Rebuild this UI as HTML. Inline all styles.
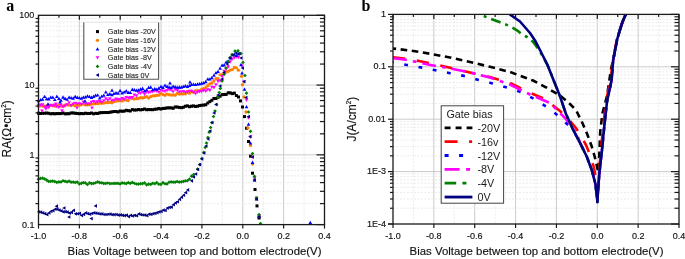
<!DOCTYPE html>
<html><head><meta charset="utf-8"><style>
html,body{margin:0;padding:0;background:#fff;width:685px;height:259px;overflow:hidden;}
svg{will-change:transform;}
svg text{font-family:"Liberation Sans",sans-serif;stroke:#111;stroke-width:0.15px;}
svg text.ser{font-family:"Liberation Serif",serif;font-weight:bold;font-size:16px;stroke:none;}
svg text.lg{stroke:none;}
svg text.lg2{stroke:#1e1e1e;stroke-width:0.12px;}
</style></head><body>
<svg width="685" height="259" viewBox="0 0 685 259" style="position:absolute;left:0;top:0">
<rect width="685" height="259" fill="#fff"/>
<line x1="58.93" y1="15.3" x2="58.93" y2="224.6" stroke="#e6e6e6" stroke-width="0.8" stroke-dasharray="2 1.5"/>
<line x1="79.36" y1="15.3" x2="79.36" y2="224.6" stroke="#cbcbcb" stroke-width="1"/>
<line x1="99.79" y1="15.3" x2="99.79" y2="224.6" stroke="#e6e6e6" stroke-width="0.8" stroke-dasharray="2 1.5"/>
<line x1="120.21" y1="15.3" x2="120.21" y2="224.6" stroke="#cbcbcb" stroke-width="1"/>
<line x1="140.64" y1="15.3" x2="140.64" y2="224.6" stroke="#e6e6e6" stroke-width="0.8" stroke-dasharray="2 1.5"/>
<line x1="161.07" y1="15.3" x2="161.07" y2="224.6" stroke="#cbcbcb" stroke-width="1"/>
<line x1="181.50" y1="15.3" x2="181.50" y2="224.6" stroke="#e6e6e6" stroke-width="0.8" stroke-dasharray="2 1.5"/>
<line x1="201.93" y1="15.3" x2="201.93" y2="224.6" stroke="#cbcbcb" stroke-width="1"/>
<line x1="222.36" y1="15.3" x2="222.36" y2="224.6" stroke="#e6e6e6" stroke-width="0.8" stroke-dasharray="2 1.5"/>
<line x1="242.79" y1="15.3" x2="242.79" y2="224.6" stroke="#cbcbcb" stroke-width="1"/>
<line x1="263.21" y1="15.3" x2="263.21" y2="224.6" stroke="#e6e6e6" stroke-width="0.8" stroke-dasharray="2 1.5"/>
<line x1="283.64" y1="15.3" x2="283.64" y2="224.6" stroke="#cbcbcb" stroke-width="1"/>
<line x1="304.07" y1="15.3" x2="304.07" y2="224.6" stroke="#e6e6e6" stroke-width="0.8" stroke-dasharray="2 1.5"/>
<line x1="38.5" y1="85.07" x2="324.5" y2="85.07" stroke="#cbcbcb" stroke-width="1"/>
<line x1="38.5" y1="64.06" x2="324.5" y2="64.06" stroke="#e6e6e6" stroke-width="0.8" stroke-dasharray="2 1.5"/>
<line x1="38.5" y1="51.78" x2="324.5" y2="51.78" stroke="#e6e6e6" stroke-width="0.8" stroke-dasharray="2 1.5"/>
<line x1="38.5" y1="43.06" x2="324.5" y2="43.06" stroke="#e6e6e6" stroke-width="0.8" stroke-dasharray="2 1.5"/>
<line x1="38.5" y1="36.30" x2="324.5" y2="36.30" stroke="#e6e6e6" stroke-width="0.8" stroke-dasharray="2 1.5"/>
<line x1="38.5" y1="30.78" x2="324.5" y2="30.78" stroke="#e6e6e6" stroke-width="0.8" stroke-dasharray="2 1.5"/>
<line x1="38.5" y1="26.11" x2="324.5" y2="26.11" stroke="#e6e6e6" stroke-width="0.8" stroke-dasharray="2 1.5"/>
<line x1="38.5" y1="22.06" x2="324.5" y2="22.06" stroke="#e6e6e6" stroke-width="0.8" stroke-dasharray="2 1.5"/>
<line x1="38.5" y1="18.49" x2="324.5" y2="18.49" stroke="#e6e6e6" stroke-width="0.8" stroke-dasharray="2 1.5"/>
<line x1="38.5" y1="154.83" x2="324.5" y2="154.83" stroke="#cbcbcb" stroke-width="1"/>
<line x1="38.5" y1="133.83" x2="324.5" y2="133.83" stroke="#e6e6e6" stroke-width="0.8" stroke-dasharray="2 1.5"/>
<line x1="38.5" y1="121.55" x2="324.5" y2="121.55" stroke="#e6e6e6" stroke-width="0.8" stroke-dasharray="2 1.5"/>
<line x1="38.5" y1="112.83" x2="324.5" y2="112.83" stroke="#e6e6e6" stroke-width="0.8" stroke-dasharray="2 1.5"/>
<line x1="38.5" y1="106.07" x2="324.5" y2="106.07" stroke="#e6e6e6" stroke-width="0.8" stroke-dasharray="2 1.5"/>
<line x1="38.5" y1="100.54" x2="324.5" y2="100.54" stroke="#e6e6e6" stroke-width="0.8" stroke-dasharray="2 1.5"/>
<line x1="38.5" y1="95.87" x2="324.5" y2="95.87" stroke="#e6e6e6" stroke-width="0.8" stroke-dasharray="2 1.5"/>
<line x1="38.5" y1="91.83" x2="324.5" y2="91.83" stroke="#e6e6e6" stroke-width="0.8" stroke-dasharray="2 1.5"/>
<line x1="38.5" y1="88.26" x2="324.5" y2="88.26" stroke="#e6e6e6" stroke-width="0.8" stroke-dasharray="2 1.5"/>
<line x1="38.5" y1="203.60" x2="324.5" y2="203.60" stroke="#e6e6e6" stroke-width="0.8" stroke-dasharray="2 1.5"/>
<line x1="38.5" y1="191.31" x2="324.5" y2="191.31" stroke="#e6e6e6" stroke-width="0.8" stroke-dasharray="2 1.5"/>
<line x1="38.5" y1="182.60" x2="324.5" y2="182.60" stroke="#e6e6e6" stroke-width="0.8" stroke-dasharray="2 1.5"/>
<line x1="38.5" y1="175.84" x2="324.5" y2="175.84" stroke="#e6e6e6" stroke-width="0.8" stroke-dasharray="2 1.5"/>
<line x1="38.5" y1="170.31" x2="324.5" y2="170.31" stroke="#e6e6e6" stroke-width="0.8" stroke-dasharray="2 1.5"/>
<line x1="38.5" y1="165.64" x2="324.5" y2="165.64" stroke="#e6e6e6" stroke-width="0.8" stroke-dasharray="2 1.5"/>
<line x1="38.5" y1="161.59" x2="324.5" y2="161.59" stroke="#e6e6e6" stroke-width="0.8" stroke-dasharray="2 1.5"/>
<line x1="38.5" y1="158.03" x2="324.5" y2="158.03" stroke="#e6e6e6" stroke-width="0.8" stroke-dasharray="2 1.5"/>
<g>
<rect x="37.00" y="111.71" width="3.00" height="3.00" fill="#000"/>
<rect x="39.04" y="112.00" width="3.00" height="3.00" fill="#000"/>
<rect x="41.08" y="111.76" width="3.00" height="3.00" fill="#000"/>
<rect x="43.12" y="111.75" width="3.00" height="3.00" fill="#000"/>
<rect x="45.16" y="111.55" width="3.00" height="3.00" fill="#000"/>
<rect x="47.20" y="111.82" width="3.00" height="3.00" fill="#000"/>
<rect x="49.24" y="112.30" width="3.00" height="3.00" fill="#000"/>
<rect x="51.28" y="112.08" width="3.00" height="3.00" fill="#000"/>
<rect x="53.32" y="112.31" width="3.00" height="3.00" fill="#000"/>
<rect x="55.36" y="112.06" width="3.00" height="3.00" fill="#000"/>
<rect x="57.40" y="112.13" width="3.00" height="3.00" fill="#000"/>
<rect x="59.44" y="112.07" width="3.00" height="3.00" fill="#000"/>
<rect x="61.48" y="111.43" width="3.00" height="3.00" fill="#000"/>
<rect x="63.52" y="112.32" width="3.00" height="3.00" fill="#000"/>
<rect x="65.56" y="112.21" width="3.00" height="3.00" fill="#000"/>
<rect x="67.60" y="112.22" width="3.00" height="3.00" fill="#000"/>
<rect x="69.64" y="111.46" width="3.00" height="3.00" fill="#000"/>
<rect x="71.68" y="111.46" width="3.00" height="3.00" fill="#000"/>
<rect x="73.72" y="111.76" width="3.00" height="3.00" fill="#000"/>
<rect x="75.76" y="111.92" width="3.00" height="3.00" fill="#000"/>
<rect x="77.80" y="112.20" width="3.00" height="3.00" fill="#000"/>
<rect x="79.84" y="112.04" width="3.00" height="3.00" fill="#000"/>
<rect x="81.88" y="112.18" width="3.00" height="3.00" fill="#000"/>
<rect x="83.92" y="111.71" width="3.00" height="3.00" fill="#000"/>
<rect x="85.96" y="111.98" width="3.00" height="3.00" fill="#000"/>
<rect x="88.00" y="111.95" width="3.00" height="3.00" fill="#000"/>
<rect x="90.04" y="111.52" width="3.00" height="3.00" fill="#000"/>
<rect x="92.08" y="112.29" width="3.00" height="3.00" fill="#000"/>
<rect x="94.12" y="111.83" width="3.00" height="3.00" fill="#000"/>
<rect x="96.16" y="111.99" width="3.00" height="3.00" fill="#000"/>
<rect x="98.20" y="111.29" width="3.00" height="3.00" fill="#000"/>
<rect x="100.24" y="111.10" width="3.00" height="3.00" fill="#000"/>
<rect x="102.28" y="111.06" width="3.00" height="3.00" fill="#000"/>
<rect x="104.32" y="110.98" width="3.00" height="3.00" fill="#000"/>
<rect x="106.36" y="111.07" width="3.00" height="3.00" fill="#000"/>
<rect x="108.40" y="110.76" width="3.00" height="3.00" fill="#000"/>
<rect x="110.44" y="110.35" width="3.00" height="3.00" fill="#000"/>
<rect x="112.48" y="110.00" width="3.00" height="3.00" fill="#000"/>
<rect x="114.52" y="109.98" width="3.00" height="3.00" fill="#000"/>
<rect x="116.56" y="110.42" width="3.00" height="3.00" fill="#000"/>
<rect x="118.60" y="109.55" width="3.00" height="3.00" fill="#000"/>
<rect x="120.64" y="109.75" width="3.00" height="3.00" fill="#000"/>
<rect x="122.68" y="109.64" width="3.00" height="3.00" fill="#000"/>
<rect x="124.72" y="108.81" width="3.00" height="3.00" fill="#000"/>
<rect x="126.76" y="109.18" width="3.00" height="3.00" fill="#000"/>
<rect x="128.80" y="109.45" width="3.00" height="3.00" fill="#000"/>
<rect x="130.84" y="108.12" width="3.00" height="3.00" fill="#000"/>
<rect x="132.88" y="108.55" width="3.00" height="3.00" fill="#000"/>
<rect x="134.92" y="108.46" width="3.00" height="3.00" fill="#000"/>
<rect x="136.96" y="108.04" width="3.00" height="3.00" fill="#000"/>
<rect x="139.00" y="108.35" width="3.00" height="3.00" fill="#000"/>
<rect x="141.04" y="108.08" width="3.00" height="3.00" fill="#000"/>
<rect x="143.08" y="107.50" width="3.00" height="3.00" fill="#000"/>
<rect x="145.12" y="108.22" width="3.00" height="3.00" fill="#000"/>
<rect x="147.16" y="108.09" width="3.00" height="3.00" fill="#000"/>
<rect x="149.20" y="108.10" width="3.00" height="3.00" fill="#000"/>
<rect x="151.24" y="108.19" width="3.00" height="3.00" fill="#000"/>
<rect x="153.28" y="107.74" width="3.00" height="3.00" fill="#000"/>
<rect x="155.32" y="107.57" width="3.00" height="3.00" fill="#000"/>
<rect x="157.36" y="106.99" width="3.00" height="3.00" fill="#000"/>
<rect x="159.40" y="107.54" width="3.00" height="3.00" fill="#000"/>
<rect x="161.44" y="106.95" width="3.00" height="3.00" fill="#000"/>
<rect x="163.48" y="106.84" width="3.00" height="3.00" fill="#000"/>
<rect x="165.52" y="106.40" width="3.00" height="3.00" fill="#000"/>
<rect x="167.56" y="106.34" width="3.00" height="3.00" fill="#000"/>
<rect x="169.60" y="106.33" width="3.00" height="3.00" fill="#000"/>
<rect x="171.64" y="106.80" width="3.00" height="3.00" fill="#000"/>
<rect x="173.68" y="105.47" width="3.00" height="3.00" fill="#000"/>
<rect x="175.72" y="105.51" width="3.00" height="3.00" fill="#000"/>
<rect x="177.76" y="105.94" width="3.00" height="3.00" fill="#000"/>
<rect x="179.80" y="106.21" width="3.00" height="3.00" fill="#000"/>
<rect x="181.84" y="105.76" width="3.00" height="3.00" fill="#000"/>
<rect x="183.88" y="104.74" width="3.00" height="3.00" fill="#000"/>
<rect x="185.92" y="104.37" width="3.00" height="3.00" fill="#000"/>
<rect x="187.96" y="105.23" width="3.00" height="3.00" fill="#000"/>
<rect x="190.00" y="104.70" width="3.00" height="3.00" fill="#000"/>
<rect x="192.04" y="104.42" width="3.00" height="3.00" fill="#000"/>
<rect x="194.08" y="104.96" width="3.00" height="3.00" fill="#000"/>
<rect x="196.12" y="104.69" width="3.00" height="3.00" fill="#000"/>
<rect x="198.16" y="104.06" width="3.00" height="3.00" fill="#000"/>
<rect x="200.20" y="103.78" width="3.00" height="3.00" fill="#000"/>
<rect x="202.24" y="103.54" width="3.00" height="3.00" fill="#000"/>
<rect x="204.28" y="103.23" width="3.00" height="3.00" fill="#000"/>
<rect x="206.32" y="101.52" width="3.00" height="3.00" fill="#000"/>
<rect x="208.36" y="100.12" width="3.00" height="3.00" fill="#000"/>
<rect x="210.40" y="98.76" width="3.00" height="3.00" fill="#000"/>
<rect x="212.44" y="96.98" width="3.00" height="3.00" fill="#000"/>
<rect x="214.48" y="96.96" width="3.00" height="3.00" fill="#000"/>
<rect x="216.52" y="95.82" width="3.00" height="3.00" fill="#000"/>
<rect x="218.56" y="94.67" width="3.00" height="3.00" fill="#000"/>
<rect x="220.60" y="93.16" width="3.00" height="3.00" fill="#000"/>
<rect x="222.64" y="92.99" width="3.00" height="3.00" fill="#000"/>
<rect x="224.68" y="92.88" width="3.00" height="3.00" fill="#000"/>
<rect x="226.72" y="91.32" width="3.00" height="3.00" fill="#000"/>
<rect x="228.76" y="91.38" width="3.00" height="3.00" fill="#000"/>
<rect x="230.80" y="92.12" width="3.00" height="3.00" fill="#000"/>
<rect x="232.84" y="91.64" width="3.00" height="3.00" fill="#000"/>
<rect x="234.88" y="94.01" width="3.00" height="3.00" fill="#000"/>
<rect x="237.00" y="95.50" width="3.00" height="3.00" fill="#000"/>
<rect x="239.00" y="99.40" width="3.00" height="3.00" fill="#000"/>
<rect x="241.00" y="105.50" width="3.00" height="3.00" fill="#000"/>
<rect x="243.00" y="115.10" width="3.00" height="3.00" fill="#000"/>
<rect x="245.00" y="126.70" width="3.00" height="3.00" fill="#000"/>
<rect x="247.00" y="140.00" width="3.00" height="3.00" fill="#000"/>
<rect x="249.00" y="154.70" width="3.00" height="3.00" fill="#000"/>
<rect x="251.00" y="171.70" width="3.00" height="3.00" fill="#000"/>
<rect x="253.50" y="188.00" width="3.00" height="3.00" fill="#000"/>
<rect x="255.50" y="204.40" width="3.00" height="3.00" fill="#000"/>
<rect x="257.50" y="216.50" width="3.00" height="3.00" fill="#000"/>
<circle cx="38.50" cy="106.30" r="1.65" fill="#ff8000"/>
<circle cx="40.54" cy="105.87" r="1.65" fill="#ff8000"/>
<circle cx="42.58" cy="106.08" r="1.65" fill="#ff8000"/>
<circle cx="44.62" cy="106.22" r="1.65" fill="#ff8000"/>
<circle cx="46.66" cy="105.88" r="1.65" fill="#ff8000"/>
<circle cx="48.70" cy="106.39" r="1.65" fill="#ff8000"/>
<circle cx="50.74" cy="105.35" r="1.65" fill="#ff8000"/>
<circle cx="52.78" cy="105.44" r="1.65" fill="#ff8000"/>
<circle cx="54.82" cy="106.19" r="1.65" fill="#ff8000"/>
<circle cx="56.86" cy="105.59" r="1.65" fill="#ff8000"/>
<circle cx="58.90" cy="105.04" r="1.65" fill="#ff8000"/>
<circle cx="60.94" cy="105.99" r="1.65" fill="#ff8000"/>
<circle cx="62.98" cy="106.22" r="1.65" fill="#ff8000"/>
<circle cx="65.02" cy="105.10" r="1.65" fill="#ff8000"/>
<circle cx="67.06" cy="104.53" r="1.65" fill="#ff8000"/>
<circle cx="69.10" cy="105.15" r="1.65" fill="#ff8000"/>
<circle cx="71.14" cy="105.08" r="1.65" fill="#ff8000"/>
<circle cx="73.18" cy="104.94" r="1.65" fill="#ff8000"/>
<circle cx="75.22" cy="105.82" r="1.65" fill="#ff8000"/>
<circle cx="77.26" cy="104.42" r="1.65" fill="#ff8000"/>
<circle cx="79.30" cy="105.61" r="1.65" fill="#ff8000"/>
<circle cx="81.34" cy="104.09" r="1.65" fill="#ff8000"/>
<circle cx="83.38" cy="104.18" r="1.65" fill="#ff8000"/>
<circle cx="85.42" cy="104.79" r="1.65" fill="#ff8000"/>
<circle cx="87.46" cy="104.89" r="1.65" fill="#ff8000"/>
<circle cx="89.50" cy="104.56" r="1.65" fill="#ff8000"/>
<circle cx="91.54" cy="104.11" r="1.65" fill="#ff8000"/>
<circle cx="93.58" cy="103.82" r="1.65" fill="#ff8000"/>
<circle cx="95.62" cy="103.66" r="1.65" fill="#ff8000"/>
<circle cx="97.66" cy="103.72" r="1.65" fill="#ff8000"/>
<circle cx="99.70" cy="103.13" r="1.65" fill="#ff8000"/>
<circle cx="101.74" cy="103.14" r="1.65" fill="#ff8000"/>
<circle cx="103.78" cy="103.05" r="1.65" fill="#ff8000"/>
<circle cx="105.82" cy="102.49" r="1.65" fill="#ff8000"/>
<circle cx="107.86" cy="102.66" r="1.65" fill="#ff8000"/>
<circle cx="109.90" cy="102.30" r="1.65" fill="#ff8000"/>
<circle cx="111.94" cy="102.85" r="1.65" fill="#ff8000"/>
<circle cx="113.98" cy="101.67" r="1.65" fill="#ff8000"/>
<circle cx="116.02" cy="101.01" r="1.65" fill="#ff8000"/>
<circle cx="118.06" cy="100.79" r="1.65" fill="#ff8000"/>
<circle cx="120.10" cy="100.71" r="1.65" fill="#ff8000"/>
<circle cx="122.14" cy="100.94" r="1.65" fill="#ff8000"/>
<circle cx="124.18" cy="99.97" r="1.65" fill="#ff8000"/>
<circle cx="126.22" cy="100.09" r="1.65" fill="#ff8000"/>
<circle cx="128.26" cy="100.61" r="1.65" fill="#ff8000"/>
<circle cx="130.30" cy="97.91" r="1.65" fill="#ff8000"/>
<circle cx="132.34" cy="98.43" r="1.65" fill="#ff8000"/>
<circle cx="134.38" cy="98.90" r="1.65" fill="#ff8000"/>
<circle cx="136.42" cy="98.71" r="1.65" fill="#ff8000"/>
<circle cx="138.46" cy="98.34" r="1.65" fill="#ff8000"/>
<circle cx="140.50" cy="97.69" r="1.65" fill="#ff8000"/>
<circle cx="142.54" cy="97.98" r="1.65" fill="#ff8000"/>
<circle cx="144.58" cy="97.47" r="1.65" fill="#ff8000"/>
<circle cx="146.62" cy="96.72" r="1.65" fill="#ff8000"/>
<circle cx="148.66" cy="98.04" r="1.65" fill="#ff8000"/>
<circle cx="150.70" cy="96.59" r="1.65" fill="#ff8000"/>
<circle cx="152.74" cy="95.78" r="1.65" fill="#ff8000"/>
<circle cx="154.78" cy="95.73" r="1.65" fill="#ff8000"/>
<circle cx="156.82" cy="95.35" r="1.65" fill="#ff8000"/>
<circle cx="158.86" cy="95.14" r="1.65" fill="#ff8000"/>
<circle cx="160.90" cy="93.46" r="1.65" fill="#ff8000"/>
<circle cx="162.94" cy="94.61" r="1.65" fill="#ff8000"/>
<circle cx="164.98" cy="95.36" r="1.65" fill="#ff8000"/>
<circle cx="167.02" cy="94.08" r="1.65" fill="#ff8000"/>
<circle cx="169.06" cy="94.60" r="1.65" fill="#ff8000"/>
<circle cx="171.10" cy="95.08" r="1.65" fill="#ff8000"/>
<circle cx="173.14" cy="94.95" r="1.65" fill="#ff8000"/>
<circle cx="175.18" cy="95.21" r="1.65" fill="#ff8000"/>
<circle cx="177.22" cy="93.38" r="1.65" fill="#ff8000"/>
<circle cx="179.26" cy="94.04" r="1.65" fill="#ff8000"/>
<circle cx="181.30" cy="93.79" r="1.65" fill="#ff8000"/>
<circle cx="183.34" cy="93.96" r="1.65" fill="#ff8000"/>
<circle cx="185.38" cy="93.87" r="1.65" fill="#ff8000"/>
<circle cx="187.42" cy="91.44" r="1.65" fill="#ff8000"/>
<circle cx="189.46" cy="93.16" r="1.65" fill="#ff8000"/>
<circle cx="191.50" cy="91.41" r="1.65" fill="#ff8000"/>
<circle cx="193.54" cy="92.23" r="1.65" fill="#ff8000"/>
<circle cx="195.58" cy="90.57" r="1.65" fill="#ff8000"/>
<circle cx="197.62" cy="90.75" r="1.65" fill="#ff8000"/>
<circle cx="199.66" cy="90.58" r="1.65" fill="#ff8000"/>
<circle cx="201.70" cy="89.11" r="1.65" fill="#ff8000"/>
<circle cx="203.74" cy="88.56" r="1.65" fill="#ff8000"/>
<circle cx="205.78" cy="87.77" r="1.65" fill="#ff8000"/>
<circle cx="207.82" cy="85.66" r="1.65" fill="#ff8000"/>
<circle cx="209.86" cy="83.79" r="1.65" fill="#ff8000"/>
<circle cx="211.90" cy="82.93" r="1.65" fill="#ff8000"/>
<circle cx="213.94" cy="81.00" r="1.65" fill="#ff8000"/>
<circle cx="215.98" cy="78.60" r="1.65" fill="#ff8000"/>
<circle cx="218.02" cy="78.62" r="1.65" fill="#ff8000"/>
<circle cx="220.06" cy="74.83" r="1.65" fill="#ff8000"/>
<circle cx="222.10" cy="74.70" r="1.65" fill="#ff8000"/>
<circle cx="224.14" cy="72.79" r="1.65" fill="#ff8000"/>
<circle cx="226.18" cy="71.93" r="1.65" fill="#ff8000"/>
<circle cx="228.22" cy="71.31" r="1.65" fill="#ff8000"/>
<circle cx="230.26" cy="70.12" r="1.65" fill="#ff8000"/>
<circle cx="232.30" cy="69.53" r="1.65" fill="#ff8000"/>
<circle cx="234.34" cy="67.52" r="1.65" fill="#ff8000"/>
<circle cx="236.38" cy="67.82" r="1.65" fill="#ff8000"/>
<circle cx="238.42" cy="70.14" r="1.65" fill="#ff8000"/>
<circle cx="241.50" cy="76.30" r="1.65" fill="#ff8000"/>
<circle cx="242.50" cy="84.70" r="1.65" fill="#ff8000"/>
<circle cx="244.00" cy="97.00" r="1.65" fill="#ff8000"/>
<circle cx="246.00" cy="112.00" r="1.65" fill="#ff8000"/>
<circle cx="248.00" cy="127.90" r="1.65" fill="#ff8000"/>
<circle cx="250.50" cy="145.40" r="1.65" fill="#ff8000"/>
<circle cx="252.50" cy="164.00" r="1.65" fill="#ff8000"/>
<circle cx="254.50" cy="180.00" r="1.65" fill="#ff8000"/>
<circle cx="256.50" cy="199.00" r="1.65" fill="#ff8000"/>
<circle cx="259.00" cy="216.00" r="1.65" fill="#ff8000"/>
<path d="M38.50 106.98L40.35 103.65L36.65 103.65Z" fill="#ff00ff"/>
<path d="M40.54 106.93L42.39 103.60L38.69 103.60Z" fill="#ff00ff"/>
<path d="M42.58 106.53L44.43 103.20L40.73 103.20Z" fill="#ff00ff"/>
<path d="M44.62 108.99L46.47 105.66L42.77 105.66Z" fill="#ff00ff"/>
<path d="M46.66 108.52L48.51 105.19L44.81 105.19Z" fill="#ff00ff"/>
<path d="M48.70 109.18L50.55 105.85L46.85 105.85Z" fill="#ff00ff"/>
<path d="M50.74 107.01L52.59 103.68L48.89 103.68Z" fill="#ff00ff"/>
<path d="M52.78 107.85L54.63 104.52L50.93 104.52Z" fill="#ff00ff"/>
<path d="M54.82 106.82L56.67 103.49L52.97 103.49Z" fill="#ff00ff"/>
<path d="M56.86 108.54L58.71 105.21L55.01 105.21Z" fill="#ff00ff"/>
<path d="M58.90 109.28L60.75 105.95L57.05 105.95Z" fill="#ff00ff"/>
<path d="M60.94 106.90L62.79 103.57L59.09 103.57Z" fill="#ff00ff"/>
<path d="M62.98 108.78L64.83 105.45L61.13 105.45Z" fill="#ff00ff"/>
<path d="M65.02 107.94L66.87 104.61L63.17 104.61Z" fill="#ff00ff"/>
<path d="M67.06 106.56L68.91 103.23L65.21 103.23Z" fill="#ff00ff"/>
<path d="M69.10 104.62L70.95 101.29L67.25 101.29Z" fill="#ff00ff"/>
<path d="M71.14 107.38L72.99 104.05L69.29 104.05Z" fill="#ff00ff"/>
<path d="M73.18 105.78L75.03 102.45L71.33 102.45Z" fill="#ff00ff"/>
<path d="M75.22 105.08L77.07 101.75L73.37 101.75Z" fill="#ff00ff"/>
<path d="M77.26 105.74L79.11 102.41L75.41 102.41Z" fill="#ff00ff"/>
<path d="M79.30 105.50L81.15 102.17L77.45 102.17Z" fill="#ff00ff"/>
<path d="M81.34 106.32L83.19 102.99L79.49 102.99Z" fill="#ff00ff"/>
<path d="M83.38 103.93L85.23 100.60L81.53 100.60Z" fill="#ff00ff"/>
<path d="M85.42 105.75L87.27 102.42L83.57 102.42Z" fill="#ff00ff"/>
<path d="M87.46 105.94L89.31 102.61L85.61 102.61Z" fill="#ff00ff"/>
<path d="M89.50 105.79L91.35 102.46L87.65 102.46Z" fill="#ff00ff"/>
<path d="M91.54 104.10L93.39 100.77L89.69 100.77Z" fill="#ff00ff"/>
<path d="M93.58 103.35L95.43 100.02L91.73 100.02Z" fill="#ff00ff"/>
<path d="M95.62 104.69L97.47 101.36L93.77 101.36Z" fill="#ff00ff"/>
<path d="M97.66 103.63L99.51 100.30L95.81 100.30Z" fill="#ff00ff"/>
<path d="M99.70 103.40L101.55 100.07L97.85 100.07Z" fill="#ff00ff"/>
<path d="M101.74 104.34L103.59 101.01L99.89 101.01Z" fill="#ff00ff"/>
<path d="M103.78 102.59L105.63 99.26L101.93 99.26Z" fill="#ff00ff"/>
<path d="M105.82 100.54L107.67 97.21L103.97 97.21Z" fill="#ff00ff"/>
<path d="M107.86 102.03L109.71 98.70L106.01 98.70Z" fill="#ff00ff"/>
<path d="M109.90 100.48L111.75 97.15L108.05 97.15Z" fill="#ff00ff"/>
<path d="M111.94 102.66L113.79 99.33L110.09 99.33Z" fill="#ff00ff"/>
<path d="M113.98 101.98L115.83 98.65L112.13 98.65Z" fill="#ff00ff"/>
<path d="M116.02 100.92L117.87 97.59L114.17 97.59Z" fill="#ff00ff"/>
<path d="M118.06 101.23L119.91 97.90L116.21 97.90Z" fill="#ff00ff"/>
<path d="M120.10 101.50L121.95 98.17L118.25 98.17Z" fill="#ff00ff"/>
<path d="M122.14 100.34L123.99 97.01L120.29 97.01Z" fill="#ff00ff"/>
<path d="M124.18 100.98L126.03 97.65L122.33 97.65Z" fill="#ff00ff"/>
<path d="M126.22 99.25L128.07 95.92L124.37 95.92Z" fill="#ff00ff"/>
<path d="M128.26 99.76L130.11 96.43L126.41 96.43Z" fill="#ff00ff"/>
<path d="M130.30 99.69L132.15 96.36L128.45 96.36Z" fill="#ff00ff"/>
<path d="M132.34 99.31L134.19 95.98L130.49 95.98Z" fill="#ff00ff"/>
<path d="M134.38 96.77L136.23 93.44L132.53 93.44Z" fill="#ff00ff"/>
<path d="M136.42 97.69L138.27 94.36L134.57 94.36Z" fill="#ff00ff"/>
<path d="M138.46 94.73L140.31 91.40L136.61 91.40Z" fill="#ff00ff"/>
<path d="M140.50 94.98L142.35 91.65L138.65 91.65Z" fill="#ff00ff"/>
<path d="M142.54 93.80L144.39 90.47L140.69 90.47Z" fill="#ff00ff"/>
<path d="M144.58 96.14L146.43 92.81L142.73 92.81Z" fill="#ff00ff"/>
<path d="M146.62 93.68L148.47 90.35L144.77 90.35Z" fill="#ff00ff"/>
<path d="M148.66 94.39L150.51 91.06L146.81 91.06Z" fill="#ff00ff"/>
<path d="M150.70 93.84L152.55 90.51L148.85 90.51Z" fill="#ff00ff"/>
<path d="M152.74 93.60L154.59 90.27L150.89 90.27Z" fill="#ff00ff"/>
<path d="M154.78 92.71L156.63 89.38L152.93 89.38Z" fill="#ff00ff"/>
<path d="M156.82 93.06L158.67 89.73L154.97 89.73Z" fill="#ff00ff"/>
<path d="M158.86 94.08L160.71 90.75L157.01 90.75Z" fill="#ff00ff"/>
<path d="M160.90 92.32L162.75 88.99L159.05 88.99Z" fill="#ff00ff"/>
<path d="M162.94 92.82L164.79 89.49L161.09 89.49Z" fill="#ff00ff"/>
<path d="M164.98 93.30L166.83 89.97L163.13 89.97Z" fill="#ff00ff"/>
<path d="M167.02 92.28L168.87 88.95L165.17 88.95Z" fill="#ff00ff"/>
<path d="M169.06 91.39L170.91 88.06L167.21 88.06Z" fill="#ff00ff"/>
<path d="M171.10 92.08L172.95 88.75L169.25 88.75Z" fill="#ff00ff"/>
<path d="M173.14 93.61L174.99 90.28L171.29 90.28Z" fill="#ff00ff"/>
<path d="M175.18 91.22L177.03 87.89L173.33 87.89Z" fill="#ff00ff"/>
<path d="M177.22 92.23L179.07 88.90L175.37 88.90Z" fill="#ff00ff"/>
<path d="M179.26 93.73L181.11 90.40L177.41 90.40Z" fill="#ff00ff"/>
<path d="M181.30 93.74L183.15 90.41L179.45 90.41Z" fill="#ff00ff"/>
<path d="M183.34 93.30L185.19 89.97L181.49 89.97Z" fill="#ff00ff"/>
<path d="M185.38 94.29L187.23 90.96L183.53 90.96Z" fill="#ff00ff"/>
<path d="M187.42 93.99L189.27 90.66L185.57 90.66Z" fill="#ff00ff"/>
<path d="M189.46 93.05L191.31 89.72L187.61 89.72Z" fill="#ff00ff"/>
<path d="M191.50 92.98L193.35 89.65L189.65 89.65Z" fill="#ff00ff"/>
<path d="M193.54 94.08L195.39 90.75L191.69 90.75Z" fill="#ff00ff"/>
<path d="M195.58 95.60L197.43 92.27L193.73 92.27Z" fill="#ff00ff"/>
<path d="M197.62 93.97L199.47 90.64L195.77 90.64Z" fill="#ff00ff"/>
<path d="M199.66 93.39L201.51 90.06L197.81 90.06Z" fill="#ff00ff"/>
<path d="M201.70 93.22L203.55 89.89L199.85 89.89Z" fill="#ff00ff"/>
<path d="M203.74 92.25L205.59 88.92L201.89 88.92Z" fill="#ff00ff"/>
<path d="M205.78 93.09L207.63 89.76L203.93 89.76Z" fill="#ff00ff"/>
<path d="M207.82 91.46L209.67 88.13L205.97 88.13Z" fill="#ff00ff"/>
<path d="M209.86 92.18L211.71 88.85L208.01 88.85Z" fill="#ff00ff"/>
<path d="M211.90 89.06L213.75 85.73L210.05 85.73Z" fill="#ff00ff"/>
<path d="M213.94 89.44L215.79 86.11L212.09 86.11Z" fill="#ff00ff"/>
<path d="M215.98 86.46L217.83 83.13L214.13 83.13Z" fill="#ff00ff"/>
<path d="M218.02 83.17L219.87 79.84L216.17 79.84Z" fill="#ff00ff"/>
<path d="M220.06 82.46L221.91 79.13L218.21 79.13Z" fill="#ff00ff"/>
<path d="M222.10 78.42L223.95 75.09L220.25 75.09Z" fill="#ff00ff"/>
<path d="M224.14 72.99L225.99 69.66L222.29 69.66Z" fill="#ff00ff"/>
<path d="M226.18 70.85L228.03 67.52L224.33 67.52Z" fill="#ff00ff"/>
<path d="M228.22 68.64L230.07 65.31L226.37 65.31Z" fill="#ff00ff"/>
<path d="M230.26 63.63L232.11 60.30L228.41 60.30Z" fill="#ff00ff"/>
<path d="M232.30 60.86L234.15 57.53L230.45 57.53Z" fill="#ff00ff"/>
<path d="M234.34 59.56L236.19 56.23L232.49 56.23Z" fill="#ff00ff"/>
<path d="M236.38 58.64L238.23 55.31L234.53 55.31Z" fill="#ff00ff"/>
<path d="M238.42 59.35L240.27 56.02L236.57 56.02Z" fill="#ff00ff"/>
<path d="M242.00 67.85L243.85 64.52L240.15 64.52Z" fill="#ff00ff"/>
<path d="M244.00 83.85L245.85 80.52L242.15 80.52Z" fill="#ff00ff"/>
<path d="M246.50 101.95L248.35 98.62L244.65 98.62Z" fill="#ff00ff"/>
<path d="M248.50 119.85L250.35 116.52L246.65 116.52Z" fill="#ff00ff"/>
<path d="M250.50 138.85L252.35 135.52L248.65 135.52Z" fill="#ff00ff"/>
<path d="M252.50 158.85L254.35 155.52L250.65 155.52Z" fill="#ff00ff"/>
<path d="M254.50 180.15L256.35 176.82L252.65 176.82Z" fill="#ff00ff"/>
<path d="M256.50 199.85L258.35 196.52L254.65 196.52Z" fill="#ff00ff"/>
<path d="M259.00 217.85L260.85 214.52L257.15 214.52Z" fill="#ff00ff"/>
<path d="M42.00 112.85L43.85 109.52L40.15 109.52Z" fill="#ff00ff"/>
<path d="M46.00 110.85L47.85 107.52L44.15 107.52Z" fill="#ff00ff"/>
<path d="M62.00 112.65L63.85 109.32L60.15 109.32Z" fill="#ff00ff"/>
<path d="M77.00 109.85L78.85 106.52L75.15 106.52Z" fill="#ff00ff"/>
<path d="M92.00 109.85L93.85 106.52L90.15 106.52Z" fill="#ff00ff"/>
<path d="M56.00 105.85L57.85 102.52L54.15 102.52Z" fill="#ff00ff"/>
<path d="M38.50 98.85L40.35 102.18L36.65 102.18Z" fill="#0000ff"/>
<path d="M40.54 97.89L42.39 101.22L38.69 101.22Z" fill="#0000ff"/>
<path d="M42.58 97.35L44.43 100.68L40.73 100.68Z" fill="#0000ff"/>
<path d="M44.62 94.71L46.47 98.04L42.77 98.04Z" fill="#0000ff"/>
<path d="M46.66 97.04L48.51 100.37L44.81 100.37Z" fill="#0000ff"/>
<path d="M48.70 97.05L50.55 100.38L46.85 100.38Z" fill="#0000ff"/>
<path d="M50.74 95.44L52.59 98.77L48.89 98.77Z" fill="#0000ff"/>
<path d="M52.78 95.45L54.63 98.78L50.93 98.78Z" fill="#0000ff"/>
<path d="M54.82 97.78L56.67 101.11L52.97 101.11Z" fill="#0000ff"/>
<path d="M56.86 94.62L58.71 97.95L55.01 97.95Z" fill="#0000ff"/>
<path d="M58.90 96.78L60.75 100.11L57.05 100.11Z" fill="#0000ff"/>
<path d="M60.94 98.54L62.79 101.87L59.09 101.87Z" fill="#0000ff"/>
<path d="M62.98 95.32L64.83 98.65L61.13 98.65Z" fill="#0000ff"/>
<path d="M65.02 96.57L66.87 99.90L63.17 99.90Z" fill="#0000ff"/>
<path d="M67.06 97.44L68.91 100.77L65.21 100.77Z" fill="#0000ff"/>
<path d="M69.10 95.43L70.95 98.76L67.25 98.76Z" fill="#0000ff"/>
<path d="M71.14 95.99L72.99 99.32L69.29 99.32Z" fill="#0000ff"/>
<path d="M73.18 96.36L75.03 99.69L71.33 99.69Z" fill="#0000ff"/>
<path d="M75.22 94.79L77.07 98.12L73.37 98.12Z" fill="#0000ff"/>
<path d="M77.26 95.59L79.11 98.92L75.41 98.92Z" fill="#0000ff"/>
<path d="M79.30 95.99L81.15 99.32L77.45 99.32Z" fill="#0000ff"/>
<path d="M81.34 96.39L83.19 99.72L79.49 99.72Z" fill="#0000ff"/>
<path d="M83.38 95.45L85.23 98.78L81.53 98.78Z" fill="#0000ff"/>
<path d="M85.42 95.14L87.27 98.47L83.57 98.47Z" fill="#0000ff"/>
<path d="M87.46 94.24L89.31 97.57L85.61 97.57Z" fill="#0000ff"/>
<path d="M89.50 94.67L91.35 98.00L87.65 98.00Z" fill="#0000ff"/>
<path d="M91.54 95.57L93.39 98.90L89.69 98.90Z" fill="#0000ff"/>
<path d="M93.58 94.61L95.43 97.94L91.73 97.94Z" fill="#0000ff"/>
<path d="M95.62 93.51L97.47 96.84L93.77 96.84Z" fill="#0000ff"/>
<path d="M97.66 93.27L99.51 96.60L95.81 96.60Z" fill="#0000ff"/>
<path d="M99.70 96.19L101.55 99.52L97.85 99.52Z" fill="#0000ff"/>
<path d="M101.74 94.41L103.59 97.74L99.89 97.74Z" fill="#0000ff"/>
<path d="M103.78 93.53L105.63 96.86L101.93 96.86Z" fill="#0000ff"/>
<path d="M105.82 90.19L107.67 93.52L103.97 93.52Z" fill="#0000ff"/>
<path d="M107.86 92.66L109.71 95.99L106.01 95.99Z" fill="#0000ff"/>
<path d="M109.90 92.10L111.75 95.43L108.05 95.43Z" fill="#0000ff"/>
<path d="M111.94 92.97L113.79 96.30L110.09 96.30Z" fill="#0000ff"/>
<path d="M113.98 91.64L115.83 94.97L112.13 94.97Z" fill="#0000ff"/>
<path d="M116.02 90.99L117.87 94.32L114.17 94.32Z" fill="#0000ff"/>
<path d="M118.06 91.31L119.91 94.64L116.21 94.64Z" fill="#0000ff"/>
<path d="M120.10 88.80L121.95 92.13L118.25 92.13Z" fill="#0000ff"/>
<path d="M122.14 91.20L123.99 94.53L120.29 94.53Z" fill="#0000ff"/>
<path d="M124.18 90.27L126.03 93.60L122.33 93.60Z" fill="#0000ff"/>
<path d="M126.22 89.06L128.07 92.39L124.37 92.39Z" fill="#0000ff"/>
<path d="M128.26 90.60L130.11 93.93L126.41 93.93Z" fill="#0000ff"/>
<path d="M130.30 90.75L132.15 94.08L128.45 94.08Z" fill="#0000ff"/>
<path d="M132.34 87.57L134.19 90.90L130.49 90.90Z" fill="#0000ff"/>
<path d="M134.38 87.94L136.23 91.27L132.53 91.27Z" fill="#0000ff"/>
<path d="M136.42 88.52L138.27 91.85L134.57 91.85Z" fill="#0000ff"/>
<path d="M138.46 88.13L140.31 91.46L136.61 91.46Z" fill="#0000ff"/>
<path d="M140.50 87.33L142.35 90.66L138.65 90.66Z" fill="#0000ff"/>
<path d="M142.54 86.58L144.39 89.91L140.69 89.91Z" fill="#0000ff"/>
<path d="M144.58 89.13L146.43 92.46L142.73 92.46Z" fill="#0000ff"/>
<path d="M146.62 87.92L148.47 91.25L144.77 91.25Z" fill="#0000ff"/>
<path d="M148.66 85.68L150.51 89.01L146.81 89.01Z" fill="#0000ff"/>
<path d="M150.70 85.31L152.55 88.64L148.85 88.64Z" fill="#0000ff"/>
<path d="M152.74 87.82L154.59 91.15L150.89 91.15Z" fill="#0000ff"/>
<path d="M154.78 86.94L156.63 90.27L152.93 90.27Z" fill="#0000ff"/>
<path d="M156.82 87.45L158.67 90.78L154.97 90.78Z" fill="#0000ff"/>
<path d="M158.86 86.31L160.71 89.64L157.01 89.64Z" fill="#0000ff"/>
<path d="M160.90 84.64L162.75 87.97L159.05 87.97Z" fill="#0000ff"/>
<path d="M162.94 85.61L164.79 88.94L161.09 88.94Z" fill="#0000ff"/>
<path d="M164.98 83.38L166.83 86.71L163.13 86.71Z" fill="#0000ff"/>
<path d="M167.02 84.60L168.87 87.93L165.17 87.93Z" fill="#0000ff"/>
<path d="M169.06 85.17L170.91 88.50L167.21 88.50Z" fill="#0000ff"/>
<path d="M171.10 85.64L172.95 88.97L169.25 88.97Z" fill="#0000ff"/>
<path d="M173.14 84.47L174.99 87.80L171.29 87.80Z" fill="#0000ff"/>
<path d="M175.18 84.96L177.03 88.29L173.33 88.29Z" fill="#0000ff"/>
<path d="M177.22 85.43L179.07 88.76L175.37 88.76Z" fill="#0000ff"/>
<path d="M179.26 85.31L181.11 88.64L177.41 88.64Z" fill="#0000ff"/>
<path d="M181.30 85.34L183.15 88.67L179.45 88.67Z" fill="#0000ff"/>
<path d="M183.34 84.67L185.19 88.00L181.49 88.00Z" fill="#0000ff"/>
<path d="M185.38 83.91L187.23 87.24L183.53 87.24Z" fill="#0000ff"/>
<path d="M187.42 84.62L189.27 87.95L185.57 87.95Z" fill="#0000ff"/>
<path d="M189.46 83.67L191.31 87.00L187.61 87.00Z" fill="#0000ff"/>
<path d="M191.50 82.60L193.35 85.93L189.65 85.93Z" fill="#0000ff"/>
<path d="M193.54 82.49L195.39 85.82L191.69 85.82Z" fill="#0000ff"/>
<path d="M195.58 82.72L197.43 86.05L193.73 86.05Z" fill="#0000ff"/>
<path d="M197.62 82.15L199.47 85.48L195.77 85.48Z" fill="#0000ff"/>
<path d="M199.66 81.92L201.51 85.25L197.81 85.25Z" fill="#0000ff"/>
<path d="M201.70 81.31L203.55 84.64L199.85 84.64Z" fill="#0000ff"/>
<path d="M203.74 81.00L205.59 84.33L201.89 84.33Z" fill="#0000ff"/>
<path d="M205.78 79.82L207.63 83.15L203.93 83.15Z" fill="#0000ff"/>
<path d="M207.82 77.22L209.67 80.55L205.97 80.55Z" fill="#0000ff"/>
<path d="M209.86 77.14L211.71 80.47L208.01 80.47Z" fill="#0000ff"/>
<path d="M211.90 75.85L213.75 79.18L210.05 79.18Z" fill="#0000ff"/>
<path d="M213.94 73.42L215.79 76.75L212.09 76.75Z" fill="#0000ff"/>
<path d="M215.98 70.98L217.83 74.31L214.13 74.31Z" fill="#0000ff"/>
<path d="M218.02 69.67L219.87 73.00L216.17 73.00Z" fill="#0000ff"/>
<path d="M220.06 66.52L221.91 69.85L218.21 69.85Z" fill="#0000ff"/>
<path d="M222.10 63.52L223.95 66.85L220.25 66.85Z" fill="#0000ff"/>
<path d="M224.14 63.12L225.99 66.45L222.29 66.45Z" fill="#0000ff"/>
<path d="M226.18 60.20L228.03 63.53L224.33 63.53Z" fill="#0000ff"/>
<path d="M228.22 59.79L230.07 63.12L226.37 63.12Z" fill="#0000ff"/>
<path d="M230.26 56.24L232.11 59.57L228.41 59.57Z" fill="#0000ff"/>
<path d="M232.30 52.97L234.15 56.30L230.45 56.30Z" fill="#0000ff"/>
<path d="M234.34 52.52L236.19 55.85L232.49 55.85Z" fill="#0000ff"/>
<path d="M236.38 53.76L238.23 57.09L234.53 57.09Z" fill="#0000ff"/>
<path d="M238.42 52.12L240.27 55.45L236.57 55.45Z" fill="#0000ff"/>
<path d="M241.00 62.85L242.85 66.18L239.15 66.18Z" fill="#0000ff"/>
<path d="M242.00 71.15L243.85 74.48L240.15 74.48Z" fill="#0000ff"/>
<path d="M244.50 87.45L246.35 90.78L242.65 90.78Z" fill="#0000ff"/>
<path d="M246.50 104.95L248.35 108.28L244.65 108.28Z" fill="#0000ff"/>
<path d="M248.50 122.45L250.35 125.78L246.65 125.78Z" fill="#0000ff"/>
<path d="M250.50 141.15L252.35 144.48L248.65 144.48Z" fill="#0000ff"/>
<path d="M252.50 160.55L254.35 163.88L250.65 163.88Z" fill="#0000ff"/>
<path d="M254.50 178.15L256.35 181.48L252.65 181.48Z" fill="#0000ff"/>
<path d="M256.50 197.15L258.35 200.48L254.65 200.48Z" fill="#0000ff"/>
<path d="M259.00 214.15L260.85 217.48L257.15 217.48Z" fill="#0000ff"/>
<path d="M310.30 220.65L312.15 223.98L308.45 223.98Z" fill="#0000ff"/>
<path d="M112.00 88.45L113.85 91.78L110.15 91.78Z" fill="#0000ff"/>
<path d="M48.00 102.15L49.85 105.48L46.15 105.48Z" fill="#0000ff"/>
<path d="M60.00 100.15L61.85 103.48L58.15 103.48Z" fill="#0000ff"/>
<path d="M85.00 99.15L86.85 102.48L83.15 102.48Z" fill="#0000ff"/>
<path d="M170.00 81.15L171.85 84.48L168.15 84.48Z" fill="#0000ff"/>
<path d="M190.00 80.15L191.85 83.48L188.15 83.48Z" fill="#0000ff"/>
<path d="M38.50 177.33L40.35 179.18L38.50 181.03L36.65 179.18Z" fill="#008000"/>
<path d="M40.54 176.60L42.39 178.45L40.54 180.30L38.69 178.45Z" fill="#008000"/>
<path d="M42.58 176.29L44.43 178.14L42.58 179.99L40.73 178.14Z" fill="#008000"/>
<path d="M44.62 177.10L46.47 178.95L44.62 180.80L42.77 178.95Z" fill="#008000"/>
<path d="M46.66 178.24L48.51 180.09L46.66 181.94L44.81 180.09Z" fill="#008000"/>
<path d="M48.70 179.55L50.55 181.40L48.70 183.25L46.85 181.40Z" fill="#008000"/>
<path d="M50.74 179.45L52.59 181.30L50.74 183.15L48.89 181.30Z" fill="#008000"/>
<path d="M52.78 179.27L54.63 181.12L52.78 182.97L50.93 181.12Z" fill="#008000"/>
<path d="M54.82 179.71L56.67 181.56L54.82 183.41L52.97 181.56Z" fill="#008000"/>
<path d="M56.86 180.43L58.71 182.28L56.86 184.13L55.01 182.28Z" fill="#008000"/>
<path d="M58.90 180.09L60.75 181.94L58.90 183.79L57.05 181.94Z" fill="#008000"/>
<path d="M60.94 180.16L62.79 182.01L60.94 183.86L59.09 182.01Z" fill="#008000"/>
<path d="M62.98 178.90L64.83 180.75L62.98 182.60L61.13 180.75Z" fill="#008000"/>
<path d="M65.02 179.46L66.87 181.31L65.02 183.16L63.17 181.31Z" fill="#008000"/>
<path d="M67.06 179.99L68.91 181.84L67.06 183.69L65.21 181.84Z" fill="#008000"/>
<path d="M69.10 179.37L70.95 181.22L69.10 183.07L67.25 181.22Z" fill="#008000"/>
<path d="M71.14 180.32L72.99 182.17L71.14 184.02L69.29 182.17Z" fill="#008000"/>
<path d="M73.18 180.26L75.03 182.11L73.18 183.96L71.33 182.11Z" fill="#008000"/>
<path d="M75.22 180.67L77.07 182.52L75.22 184.37L73.37 182.52Z" fill="#008000"/>
<path d="M77.26 180.22L79.11 182.07L77.26 183.92L75.41 182.07Z" fill="#008000"/>
<path d="M79.30 182.10L81.15 183.95L79.30 185.80L77.45 183.95Z" fill="#008000"/>
<path d="M81.34 181.47L83.19 183.32L81.34 185.17L79.49 183.32Z" fill="#008000"/>
<path d="M83.38 180.72L85.23 182.57L83.38 184.42L81.53 182.57Z" fill="#008000"/>
<path d="M85.42 181.03L87.27 182.88L85.42 184.73L83.57 182.88Z" fill="#008000"/>
<path d="M87.46 182.65L89.31 184.50L87.46 186.35L85.61 184.50Z" fill="#008000"/>
<path d="M89.50 181.01L91.35 182.86L89.50 184.71L87.65 182.86Z" fill="#008000"/>
<path d="M91.54 181.68L93.39 183.53L91.54 185.38L89.69 183.53Z" fill="#008000"/>
<path d="M93.58 181.62L95.43 183.47L93.58 185.32L91.73 183.47Z" fill="#008000"/>
<path d="M95.62 180.92L97.47 182.77L95.62 184.62L93.77 182.77Z" fill="#008000"/>
<path d="M97.66 180.09L99.51 181.94L97.66 183.79L95.81 181.94Z" fill="#008000"/>
<path d="M99.70 180.78L101.55 182.63L99.70 184.48L97.85 182.63Z" fill="#008000"/>
<path d="M101.74 180.97L103.59 182.82L101.74 184.67L99.89 182.82Z" fill="#008000"/>
<path d="M103.78 181.55L105.63 183.40L103.78 185.25L101.93 183.40Z" fill="#008000"/>
<path d="M105.82 181.47L107.67 183.32L105.82 185.17L103.97 183.32Z" fill="#008000"/>
<path d="M107.86 181.14L109.71 182.99L107.86 184.84L106.01 182.99Z" fill="#008000"/>
<path d="M109.90 181.76L111.75 183.61L109.90 185.46L108.05 183.61Z" fill="#008000"/>
<path d="M111.94 181.67L113.79 183.52L111.94 185.37L110.09 183.52Z" fill="#008000"/>
<path d="M113.98 181.57L115.83 183.42L113.98 185.27L112.13 183.42Z" fill="#008000"/>
<path d="M116.02 181.58L117.87 183.43L116.02 185.28L114.17 183.43Z" fill="#008000"/>
<path d="M118.06 181.50L119.91 183.35L118.06 185.20L116.21 183.35Z" fill="#008000"/>
<path d="M120.10 182.08L121.95 183.93L120.10 185.78L118.25 183.93Z" fill="#008000"/>
<path d="M122.14 181.06L123.99 182.91L122.14 184.76L120.29 182.91Z" fill="#008000"/>
<path d="M124.18 181.33L126.03 183.18L124.18 185.03L122.33 183.18Z" fill="#008000"/>
<path d="M126.22 181.73L128.07 183.58L126.22 185.43L124.37 183.58Z" fill="#008000"/>
<path d="M128.26 180.87L130.11 182.72L128.26 184.57L126.41 182.72Z" fill="#008000"/>
<path d="M130.30 181.50L132.15 183.35L130.30 185.20L128.45 183.35Z" fill="#008000"/>
<path d="M132.34 180.58L134.19 182.43L132.34 184.28L130.49 182.43Z" fill="#008000"/>
<path d="M134.38 181.39L136.23 183.24L134.38 185.09L132.53 183.24Z" fill="#008000"/>
<path d="M136.42 182.16L138.27 184.01L136.42 185.86L134.57 184.01Z" fill="#008000"/>
<path d="M138.46 182.18L140.31 184.03L138.46 185.88L136.61 184.03Z" fill="#008000"/>
<path d="M140.50 181.83L142.35 183.68L140.50 185.53L138.65 183.68Z" fill="#008000"/>
<path d="M142.54 181.74L144.39 183.59L142.54 185.44L140.69 183.59Z" fill="#008000"/>
<path d="M144.58 181.05L146.43 182.90L144.58 184.75L142.73 182.90Z" fill="#008000"/>
<path d="M146.62 183.02L148.47 184.87L146.62 186.72L144.77 184.87Z" fill="#008000"/>
<path d="M148.66 182.25L150.51 184.10L148.66 185.95L146.81 184.10Z" fill="#008000"/>
<path d="M150.70 182.61L152.55 184.46L150.70 186.31L148.85 184.46Z" fill="#008000"/>
<path d="M152.74 181.42L154.59 183.27L152.74 185.12L150.89 183.27Z" fill="#008000"/>
<path d="M154.78 181.84L156.63 183.69L154.78 185.54L152.93 183.69Z" fill="#008000"/>
<path d="M156.82 180.86L158.67 182.71L156.82 184.56L154.97 182.71Z" fill="#008000"/>
<path d="M158.86 182.42L160.71 184.27L158.86 186.12L157.01 184.27Z" fill="#008000"/>
<path d="M160.90 182.51L162.75 184.36L160.90 186.21L159.05 184.36Z" fill="#008000"/>
<path d="M162.94 180.81L164.79 182.66L162.94 184.51L161.09 182.66Z" fill="#008000"/>
<path d="M164.98 181.92L166.83 183.77L164.98 185.62L163.13 183.77Z" fill="#008000"/>
<path d="M167.02 182.09L168.87 183.94L167.02 185.79L165.17 183.94Z" fill="#008000"/>
<path d="M169.06 180.41L170.91 182.26L169.06 184.11L167.21 182.26Z" fill="#008000"/>
<path d="M171.10 180.12L172.95 181.97L171.10 183.82L169.25 181.97Z" fill="#008000"/>
<path d="M173.14 180.33L174.99 182.18L173.14 184.03L171.29 182.18Z" fill="#008000"/>
<path d="M175.18 180.35L177.03 182.20L175.18 184.05L173.33 182.20Z" fill="#008000"/>
<path d="M177.22 179.64L179.07 181.49L177.22 183.34L175.37 181.49Z" fill="#008000"/>
<path d="M179.26 180.26L181.11 182.11L179.26 183.96L177.41 182.11Z" fill="#008000"/>
<path d="M181.30 179.93L183.15 181.78L181.30 183.63L179.45 181.78Z" fill="#008000"/>
<path d="M183.34 179.58L185.19 181.43L183.34 183.28L181.49 181.43Z" fill="#008000"/>
<path d="M185.38 179.03L187.23 180.88L185.38 182.73L183.53 180.88Z" fill="#008000"/>
<path d="M187.42 178.79L189.27 180.64L187.42 182.49L185.57 180.64Z" fill="#008000"/>
<path d="M189.46 177.31L191.31 179.16L189.46 181.01L187.61 179.16Z" fill="#008000"/>
<path d="M191.50 174.36L193.35 176.21L191.50 178.06L189.65 176.21Z" fill="#008000"/>
<path d="M193.54 172.81L195.39 174.66L193.54 176.51L191.69 174.66Z" fill="#008000"/>
<path d="M197.50 167.15L199.35 169.00L197.50 170.85L195.65 169.00Z" fill="#008000"/>
<path d="M199.70 162.75L201.55 164.60L199.70 166.45L197.85 164.60Z" fill="#008000"/>
<path d="M201.80 156.65L203.65 158.50L201.80 160.35L199.95 158.50Z" fill="#008000"/>
<path d="M203.80 150.55L205.65 152.40L203.80 154.25L201.95 152.40Z" fill="#008000"/>
<path d="M205.20 145.65L207.05 147.50L205.20 149.35L203.35 147.50Z" fill="#008000"/>
<path d="M206.50 141.15L208.35 143.00L206.50 144.85L204.65 143.00Z" fill="#008000"/>
<path d="M207.90 135.65L209.75 137.50L207.90 139.35L206.05 137.50Z" fill="#008000"/>
<path d="M209.20 130.35L211.05 132.20L209.20 134.05L207.35 132.20Z" fill="#008000"/>
<path d="M210.60 125.65L212.45 127.50L210.60 129.35L208.75 127.50Z" fill="#008000"/>
<path d="M211.90 120.85L213.75 122.70L211.90 124.55L210.05 122.70Z" fill="#008000"/>
<path d="M213.50 114.65L215.35 116.50L213.50 118.35L211.65 116.50Z" fill="#008000"/>
<path d="M215.00 109.15L216.85 111.00L215.00 112.85L213.15 111.00Z" fill="#008000"/>
<path d="M216.50 102.65L218.35 104.50L216.50 106.35L214.65 104.50Z" fill="#008000"/>
<path d="M218.00 95.15L219.85 97.00L218.00 98.85L216.15 97.00Z" fill="#008000"/>
<path d="M219.20 90.65L221.05 92.50L219.20 94.35L217.35 92.50Z" fill="#008000"/>
<path d="M220.30 86.65L222.15 88.50L220.30 90.35L218.45 88.50Z" fill="#008000"/>
<path d="M222.00 79.15L223.85 81.00L222.00 82.85L220.15 81.00Z" fill="#008000"/>
<path d="M224.00 72.65L225.85 74.50L224.00 76.35L222.15 74.50Z" fill="#008000"/>
<path d="M226.00 66.15L227.85 68.00L226.00 69.85L224.15 68.00Z" fill="#008000"/>
<path d="M228.00 59.65L229.85 61.50L228.00 63.35L226.15 61.50Z" fill="#008000"/>
<path d="M230.00 55.65L231.85 57.50L230.00 59.35L228.15 57.50Z" fill="#008000"/>
<path d="M232.00 52.85L233.85 54.70L232.00 56.55L230.15 54.70Z" fill="#008000"/>
<path d="M235.00 49.25L236.85 51.10L235.00 52.95L233.15 51.10Z" fill="#008000"/>
<path d="M238.00 48.95L239.85 50.80L238.00 52.65L236.15 50.80Z" fill="#008000"/>
<path d="M241.00 51.75L242.85 53.60L241.00 55.45L239.15 53.60Z" fill="#008000"/>
<path d="M243.00 60.55L244.85 62.40L243.00 64.25L241.15 62.40Z" fill="#008000"/>
<path d="M245.00 73.65L246.85 75.50L245.00 77.35L243.15 75.50Z" fill="#008000"/>
<path d="M246.50 91.35L248.35 93.20L246.50 95.05L244.65 93.20Z" fill="#008000"/>
<path d="M248.50 110.15L250.35 112.00L248.50 113.85L246.65 112.00Z" fill="#008000"/>
<path d="M250.50 129.45L252.35 131.30L250.50 133.15L248.65 131.30Z" fill="#008000"/>
<path d="M252.50 151.75L254.35 153.60L252.50 155.45L250.65 153.60Z" fill="#008000"/>
<path d="M254.50 174.45L256.35 176.30L254.50 178.15L252.65 176.30Z" fill="#008000"/>
<path d="M256.50 196.15L258.35 198.00L256.50 199.85L254.65 198.00Z" fill="#008000"/>
<path d="M259.00 212.75L260.85 214.60L259.00 216.45L257.15 214.60Z" fill="#008000"/>
<path d="M260.50 221.65L262.35 223.50L260.50 225.35L258.65 223.50Z" fill="#008000"/>
<path d="M36.95 211.87L40.28 210.02L40.28 213.72Z" fill="#000080"/>
<path d="M38.99 212.13L42.32 210.28L42.32 213.98Z" fill="#000080"/>
<path d="M41.03 212.95L44.36 211.10L44.36 214.80Z" fill="#000080"/>
<path d="M43.07 213.65L46.40 211.80L46.40 215.50Z" fill="#000080"/>
<path d="M45.11 214.58L48.44 212.73L48.44 216.43Z" fill="#000080"/>
<path d="M47.15 212.95L50.48 211.10L50.48 214.80Z" fill="#000080"/>
<path d="M49.19 211.34L52.52 209.49L52.52 213.19Z" fill="#000080"/>
<path d="M51.23 210.54L54.56 208.69L54.56 212.39Z" fill="#000080"/>
<path d="M53.27 209.20L56.60 207.35L56.60 211.05Z" fill="#000080"/>
<path d="M55.31 209.14L58.64 207.29L58.64 210.99Z" fill="#000080"/>
<path d="M57.35 210.10L60.68 208.25L60.68 211.95Z" fill="#000080"/>
<path d="M59.39 210.94L62.72 209.09L62.72 212.79Z" fill="#000080"/>
<path d="M61.43 211.78L64.76 209.93L64.76 213.63Z" fill="#000080"/>
<path d="M63.47 211.71L66.80 209.86L66.80 213.56Z" fill="#000080"/>
<path d="M65.51 212.04L68.84 210.19L68.84 213.89Z" fill="#000080"/>
<path d="M67.55 213.03L70.88 211.18L70.88 214.88Z" fill="#000080"/>
<path d="M69.59 212.47L72.92 210.62L72.92 214.32Z" fill="#000080"/>
<path d="M71.63 210.42L74.96 208.57L74.96 212.27Z" fill="#000080"/>
<path d="M73.67 213.86L77.00 212.01L77.00 215.71Z" fill="#000080"/>
<path d="M75.71 213.74L79.04 211.89L79.04 215.59Z" fill="#000080"/>
<path d="M77.75 213.38L81.08 211.53L81.08 215.23Z" fill="#000080"/>
<path d="M79.79 215.39L83.12 213.54L83.12 217.24Z" fill="#000080"/>
<path d="M81.83 214.37L85.16 212.52L85.16 216.22Z" fill="#000080"/>
<path d="M83.87 212.91L87.20 211.06L87.20 214.76Z" fill="#000080"/>
<path d="M85.91 213.60L89.24 211.75L89.24 215.45Z" fill="#000080"/>
<path d="M87.95 214.14L91.28 212.29L91.28 215.99Z" fill="#000080"/>
<path d="M89.99 213.51L93.32 211.66L93.32 215.36Z" fill="#000080"/>
<path d="M92.03 212.80L95.36 210.95L95.36 214.65Z" fill="#000080"/>
<path d="M94.07 213.19L97.40 211.34L97.40 215.04Z" fill="#000080"/>
<path d="M96.11 213.49L99.44 211.64L99.44 215.34Z" fill="#000080"/>
<path d="M98.15 213.93L101.48 212.08L101.48 215.78Z" fill="#000080"/>
<path d="M100.19 213.97L103.52 212.12L103.52 215.82Z" fill="#000080"/>
<path d="M102.23 214.50L105.56 212.65L105.56 216.35Z" fill="#000080"/>
<path d="M104.27 214.52L107.60 212.67L107.60 216.37Z" fill="#000080"/>
<path d="M106.31 214.24L109.64 212.39L109.64 216.09Z" fill="#000080"/>
<path d="M108.35 214.08L111.68 212.23L111.68 215.93Z" fill="#000080"/>
<path d="M110.39 214.67L113.72 212.82L113.72 216.52Z" fill="#000080"/>
<path d="M112.43 214.59L115.76 212.74L115.76 216.44Z" fill="#000080"/>
<path d="M114.47 214.48L117.80 212.63L117.80 216.33Z" fill="#000080"/>
<path d="M116.51 215.05L119.84 213.20L119.84 216.90Z" fill="#000080"/>
<path d="M118.55 214.93L121.88 213.08L121.88 216.78Z" fill="#000080"/>
<path d="M120.59 215.30L123.92 213.45L123.92 217.15Z" fill="#000080"/>
<path d="M122.63 215.58L125.96 213.73L125.96 217.43Z" fill="#000080"/>
<path d="M124.67 215.18L128.00 213.33L128.00 217.03Z" fill="#000080"/>
<path d="M126.71 216.61L130.04 214.76L130.04 218.46Z" fill="#000080"/>
<path d="M128.75 215.31L132.08 213.46L132.08 217.16Z" fill="#000080"/>
<path d="M130.79 215.93L134.12 214.08L134.12 217.78Z" fill="#000080"/>
<path d="M132.83 215.34L136.16 213.49L136.16 217.19Z" fill="#000080"/>
<path d="M134.87 215.74L138.20 213.89L138.20 217.59Z" fill="#000080"/>
<path d="M136.91 213.90L140.24 212.05L140.24 215.75Z" fill="#000080"/>
<path d="M138.95 214.62L142.28 212.77L142.28 216.47Z" fill="#000080"/>
<path d="M140.99 215.02L144.32 213.17L144.32 216.87Z" fill="#000080"/>
<path d="M143.03 215.11L146.36 213.26L146.36 216.96Z" fill="#000080"/>
<path d="M145.07 215.60L148.40 213.75L148.40 217.45Z" fill="#000080"/>
<path d="M147.11 214.20L150.44 212.35L150.44 216.05Z" fill="#000080"/>
<path d="M149.15 214.29L152.48 212.44L152.48 216.14Z" fill="#000080"/>
<path d="M151.19 213.64L154.52 211.79L154.52 215.49Z" fill="#000080"/>
<path d="M153.23 213.34L156.56 211.49L156.56 215.19Z" fill="#000080"/>
<path d="M155.27 212.72L158.60 210.87L158.60 214.57Z" fill="#000080"/>
<path d="M157.31 211.84L160.64 209.99L160.64 213.69Z" fill="#000080"/>
<path d="M159.35 211.50L162.68 209.65L162.68 213.35Z" fill="#000080"/>
<path d="M161.39 210.04L164.72 208.19L164.72 211.89Z" fill="#000080"/>
<path d="M163.43 210.42L166.76 208.57L166.76 212.27Z" fill="#000080"/>
<path d="M165.47 208.04L168.80 206.19L168.80 209.89Z" fill="#000080"/>
<path d="M167.51 207.41L170.84 205.56L170.84 209.26Z" fill="#000080"/>
<path d="M169.55 207.07L172.88 205.22L172.88 208.92Z" fill="#000080"/>
<path d="M171.59 204.63L174.92 202.78L174.92 206.48Z" fill="#000080"/>
<path d="M173.63 202.96L176.96 201.11L176.96 204.81Z" fill="#000080"/>
<path d="M175.67 201.73L179.00 199.88L179.00 203.58Z" fill="#000080"/>
<path d="M177.71 199.37L181.04 197.52L181.04 201.22Z" fill="#000080"/>
<path d="M179.75 197.15L183.08 195.30L183.08 199.00Z" fill="#000080"/>
<path d="M181.79 195.15L185.12 193.30L185.12 197.00Z" fill="#000080"/>
<path d="M183.83 192.60L187.16 190.75L187.16 194.45Z" fill="#000080"/>
<path d="M185.87 189.96L189.20 188.11L189.20 191.81Z" fill="#000080"/>
<path d="M189.75 180.80L193.08 178.95L193.08 182.65Z" fill="#000080"/>
<path d="M191.75 177.00L195.08 175.15L195.08 178.85Z" fill="#000080"/>
<path d="M193.85 174.00L197.18 172.15L197.18 175.85Z" fill="#000080"/>
<path d="M195.85 169.50L199.18 167.65L199.18 171.35Z" fill="#000080"/>
<path d="M197.85 164.60L201.18 162.75L201.18 166.45Z" fill="#000080"/>
<path d="M199.95 159.00L203.28 157.15L203.28 160.85Z" fill="#000080"/>
<path d="M202.05 153.00L205.38 151.15L205.38 154.85Z" fill="#000080"/>
<path d="M204.15 146.00L207.48 144.15L207.48 147.85Z" fill="#000080"/>
<path d="M206.15 139.00L209.48 137.15L209.48 140.85Z" fill="#000080"/>
<path d="M208.15 131.00L211.48 129.15L211.48 132.85Z" fill="#000080"/>
<path d="M210.15 122.50L213.48 120.65L213.48 124.35Z" fill="#000080"/>
<path d="M212.15 113.00L215.48 111.15L215.48 114.85Z" fill="#000080"/>
<path d="M214.15 104.50L217.48 102.65L217.48 106.35Z" fill="#000080"/>
<path d="M216.15 95.00L219.48 93.15L219.48 96.85Z" fill="#000080"/>
<path d="M218.15 86.00L221.48 84.15L221.48 87.85Z" fill="#000080"/>
<path d="M220.15 79.00L223.48 77.15L223.48 80.85Z" fill="#000080"/>
<path d="M222.15 72.50L225.48 70.65L225.48 74.35Z" fill="#000080"/>
<path d="M225.15 64.00L228.48 62.15L228.48 65.85Z" fill="#000080"/>
<path d="M228.15 58.00L231.48 56.15L231.48 59.85Z" fill="#000080"/>
<path d="M231.15 55.00L234.48 53.15L234.48 56.85Z" fill="#000080"/>
<path d="M234.15 53.00L237.48 51.15L237.48 54.85Z" fill="#000080"/>
<path d="M237.15 53.50L240.48 51.65L240.48 55.35Z" fill="#000080"/>
<path d="M239.15 58.00L242.48 56.15L242.48 59.85Z" fill="#000080"/>
<path d="M240.65 68.00L243.98 66.15L243.98 69.85Z" fill="#000080"/>
<path d="M242.15 81.60L245.48 79.75L245.48 83.45Z" fill="#000080"/>
<path d="M244.15 97.50L247.48 95.65L247.48 99.35Z" fill="#000080"/>
<path d="M246.65 116.60L249.98 114.75L249.98 118.45Z" fill="#000080"/>
<path d="M248.15 136.70L251.48 134.85L251.48 138.55Z" fill="#000080"/>
<path d="M250.65 157.00L253.98 155.15L253.98 158.85Z" fill="#000080"/>
<path d="M252.65 180.00L255.98 178.15L255.98 181.85Z" fill="#000080"/>
<path d="M254.65 199.00L257.98 197.15L257.98 200.85Z" fill="#000080"/>
<path d="M257.15 217.00L260.48 215.15L260.48 218.85Z" fill="#000080"/>
<path d="M54.65 206.20L57.98 204.35L57.98 208.05Z" fill="#000080"/>
<path d="M67.05 217.00L70.38 215.15L70.38 218.85Z" fill="#000080"/>
<path d="M89.45 218.60L92.78 216.75L92.78 220.45Z" fill="#000080"/>
<path d="M93.65 205.90L96.98 204.05L96.98 207.75Z" fill="#000080"/>
<path d="M62.15 208.00L65.48 206.15L65.48 209.85Z" fill="#000080"/>
</g>
<rect x="38.5" y="15.3" width="286.0" height="209.29999999999998" fill="none" stroke="#1a1a1a" stroke-width="1.3"/>
<line x1="38.50" y1="224.6" x2="38.50" y2="228.6" stroke="#1a1a1a" stroke-width="1.2"/>
<line x1="38.50" y1="15.3" x2="38.50" y2="19.8" stroke="#1a1a1a" stroke-width="1.2"/>
<line x1="58.93" y1="15.3" x2="58.93" y2="17.8" stroke="#1a1a1a" stroke-width="1.2"/>
<line x1="79.36" y1="224.6" x2="79.36" y2="228.6" stroke="#1a1a1a" stroke-width="1.2"/>
<line x1="79.36" y1="15.3" x2="79.36" y2="19.8" stroke="#1a1a1a" stroke-width="1.2"/>
<line x1="99.79" y1="15.3" x2="99.79" y2="17.8" stroke="#1a1a1a" stroke-width="1.2"/>
<line x1="120.21" y1="224.6" x2="120.21" y2="228.6" stroke="#1a1a1a" stroke-width="1.2"/>
<line x1="120.21" y1="15.3" x2="120.21" y2="19.8" stroke="#1a1a1a" stroke-width="1.2"/>
<line x1="140.64" y1="15.3" x2="140.64" y2="17.8" stroke="#1a1a1a" stroke-width="1.2"/>
<line x1="161.07" y1="224.6" x2="161.07" y2="228.6" stroke="#1a1a1a" stroke-width="1.2"/>
<line x1="161.07" y1="15.3" x2="161.07" y2="19.8" stroke="#1a1a1a" stroke-width="1.2"/>
<line x1="181.50" y1="15.3" x2="181.50" y2="17.8" stroke="#1a1a1a" stroke-width="1.2"/>
<line x1="201.93" y1="224.6" x2="201.93" y2="228.6" stroke="#1a1a1a" stroke-width="1.2"/>
<line x1="201.93" y1="15.3" x2="201.93" y2="19.8" stroke="#1a1a1a" stroke-width="1.2"/>
<line x1="222.36" y1="15.3" x2="222.36" y2="17.8" stroke="#1a1a1a" stroke-width="1.2"/>
<line x1="242.79" y1="224.6" x2="242.79" y2="228.6" stroke="#1a1a1a" stroke-width="1.2"/>
<line x1="242.79" y1="15.3" x2="242.79" y2="19.8" stroke="#1a1a1a" stroke-width="1.2"/>
<line x1="263.21" y1="15.3" x2="263.21" y2="17.8" stroke="#1a1a1a" stroke-width="1.2"/>
<line x1="283.64" y1="224.6" x2="283.64" y2="228.6" stroke="#1a1a1a" stroke-width="1.2"/>
<line x1="283.64" y1="15.3" x2="283.64" y2="19.8" stroke="#1a1a1a" stroke-width="1.2"/>
<line x1="304.07" y1="15.3" x2="304.07" y2="17.8" stroke="#1a1a1a" stroke-width="1.2"/>
<line x1="324.50" y1="224.6" x2="324.50" y2="228.6" stroke="#1a1a1a" stroke-width="1.2"/>
<line x1="324.50" y1="15.3" x2="324.50" y2="19.8" stroke="#1a1a1a" stroke-width="1.2"/>
<line x1="316.5" y1="85.07" x2="324.5" y2="85.07" stroke="#1a1a1a" stroke-width="1.2"/>
<line x1="35.5" y1="64.06" x2="38.5" y2="64.06" stroke="#1a1a1a" stroke-width="1.2"/>
<line x1="320.0" y1="64.06" x2="324.5" y2="64.06" stroke="#1a1a1a" stroke-width="1.2"/>
<line x1="35.5" y1="51.78" x2="38.5" y2="51.78" stroke="#1a1a1a" stroke-width="1.2"/>
<line x1="320.0" y1="51.78" x2="324.5" y2="51.78" stroke="#1a1a1a" stroke-width="1.2"/>
<line x1="35.5" y1="43.06" x2="38.5" y2="43.06" stroke="#1a1a1a" stroke-width="1.2"/>
<line x1="320.0" y1="43.06" x2="324.5" y2="43.06" stroke="#1a1a1a" stroke-width="1.2"/>
<line x1="35.5" y1="36.30" x2="38.5" y2="36.30" stroke="#1a1a1a" stroke-width="1.2"/>
<line x1="320.0" y1="36.30" x2="324.5" y2="36.30" stroke="#1a1a1a" stroke-width="1.2"/>
<line x1="35.5" y1="30.78" x2="38.5" y2="30.78" stroke="#1a1a1a" stroke-width="1.2"/>
<line x1="320.0" y1="30.78" x2="324.5" y2="30.78" stroke="#1a1a1a" stroke-width="1.2"/>
<line x1="35.5" y1="26.11" x2="38.5" y2="26.11" stroke="#1a1a1a" stroke-width="1.2"/>
<line x1="320.0" y1="26.11" x2="324.5" y2="26.11" stroke="#1a1a1a" stroke-width="1.2"/>
<line x1="35.5" y1="22.06" x2="38.5" y2="22.06" stroke="#1a1a1a" stroke-width="1.2"/>
<line x1="320.0" y1="22.06" x2="324.5" y2="22.06" stroke="#1a1a1a" stroke-width="1.2"/>
<line x1="35.5" y1="18.49" x2="38.5" y2="18.49" stroke="#1a1a1a" stroke-width="1.2"/>
<line x1="320.0" y1="18.49" x2="324.5" y2="18.49" stroke="#1a1a1a" stroke-width="1.2"/>
<line x1="316.5" y1="154.83" x2="324.5" y2="154.83" stroke="#1a1a1a" stroke-width="1.2"/>
<line x1="35.5" y1="133.83" x2="38.5" y2="133.83" stroke="#1a1a1a" stroke-width="1.2"/>
<line x1="320.0" y1="133.83" x2="324.5" y2="133.83" stroke="#1a1a1a" stroke-width="1.2"/>
<line x1="35.5" y1="121.55" x2="38.5" y2="121.55" stroke="#1a1a1a" stroke-width="1.2"/>
<line x1="320.0" y1="121.55" x2="324.5" y2="121.55" stroke="#1a1a1a" stroke-width="1.2"/>
<line x1="35.5" y1="112.83" x2="38.5" y2="112.83" stroke="#1a1a1a" stroke-width="1.2"/>
<line x1="320.0" y1="112.83" x2="324.5" y2="112.83" stroke="#1a1a1a" stroke-width="1.2"/>
<line x1="35.5" y1="106.07" x2="38.5" y2="106.07" stroke="#1a1a1a" stroke-width="1.2"/>
<line x1="320.0" y1="106.07" x2="324.5" y2="106.07" stroke="#1a1a1a" stroke-width="1.2"/>
<line x1="35.5" y1="100.54" x2="38.5" y2="100.54" stroke="#1a1a1a" stroke-width="1.2"/>
<line x1="320.0" y1="100.54" x2="324.5" y2="100.54" stroke="#1a1a1a" stroke-width="1.2"/>
<line x1="35.5" y1="95.87" x2="38.5" y2="95.87" stroke="#1a1a1a" stroke-width="1.2"/>
<line x1="320.0" y1="95.87" x2="324.5" y2="95.87" stroke="#1a1a1a" stroke-width="1.2"/>
<line x1="35.5" y1="91.83" x2="38.5" y2="91.83" stroke="#1a1a1a" stroke-width="1.2"/>
<line x1="320.0" y1="91.83" x2="324.5" y2="91.83" stroke="#1a1a1a" stroke-width="1.2"/>
<line x1="35.5" y1="88.26" x2="38.5" y2="88.26" stroke="#1a1a1a" stroke-width="1.2"/>
<line x1="320.0" y1="88.26" x2="324.5" y2="88.26" stroke="#1a1a1a" stroke-width="1.2"/>
<line x1="316.5" y1="224.60" x2="324.5" y2="224.60" stroke="#1a1a1a" stroke-width="1.2"/>
<line x1="35.5" y1="203.60" x2="38.5" y2="203.60" stroke="#1a1a1a" stroke-width="1.2"/>
<line x1="320.0" y1="203.60" x2="324.5" y2="203.60" stroke="#1a1a1a" stroke-width="1.2"/>
<line x1="35.5" y1="191.31" x2="38.5" y2="191.31" stroke="#1a1a1a" stroke-width="1.2"/>
<line x1="320.0" y1="191.31" x2="324.5" y2="191.31" stroke="#1a1a1a" stroke-width="1.2"/>
<line x1="35.5" y1="182.60" x2="38.5" y2="182.60" stroke="#1a1a1a" stroke-width="1.2"/>
<line x1="320.0" y1="182.60" x2="324.5" y2="182.60" stroke="#1a1a1a" stroke-width="1.2"/>
<line x1="35.5" y1="175.84" x2="38.5" y2="175.84" stroke="#1a1a1a" stroke-width="1.2"/>
<line x1="320.0" y1="175.84" x2="324.5" y2="175.84" stroke="#1a1a1a" stroke-width="1.2"/>
<line x1="35.5" y1="170.31" x2="38.5" y2="170.31" stroke="#1a1a1a" stroke-width="1.2"/>
<line x1="320.0" y1="170.31" x2="324.5" y2="170.31" stroke="#1a1a1a" stroke-width="1.2"/>
<line x1="35.5" y1="165.64" x2="38.5" y2="165.64" stroke="#1a1a1a" stroke-width="1.2"/>
<line x1="320.0" y1="165.64" x2="324.5" y2="165.64" stroke="#1a1a1a" stroke-width="1.2"/>
<line x1="35.5" y1="161.59" x2="38.5" y2="161.59" stroke="#1a1a1a" stroke-width="1.2"/>
<line x1="320.0" y1="161.59" x2="324.5" y2="161.59" stroke="#1a1a1a" stroke-width="1.2"/>
<line x1="35.5" y1="158.03" x2="38.5" y2="158.03" stroke="#1a1a1a" stroke-width="1.2"/>
<line x1="320.0" y1="158.03" x2="324.5" y2="158.03" stroke="#1a1a1a" stroke-width="1.2"/>
<line x1="316.5" y1="15.30" x2="324.5" y2="15.30" stroke="#1a1a1a" stroke-width="1.2"/>
<rect x="83.8" y="22.3" width="74.8" height="56.9" fill="#fff" stroke="none"/>
<path d="M83.8 22.3V79.2H158.6V22.3" fill="none" stroke="#555" stroke-width="1.1"/>
<line x1="83.8" y1="22.3" x2="158.6" y2="22.3" stroke="#e0e0e0" stroke-width="0.8"/>
<rect x="96.00" y="30.10" width="3.00" height="3.00" fill="#000"/>
<text class="lg2" x="107.8" y="34.20" font-size="7.2" fill="#1e1e1e">Gate bias -20V</text>
<circle cx="97.50" cy="40.30" r="1.65" fill="#ff8000"/>
<text class="lg2" x="107.8" y="42.90" font-size="7.2" fill="#1e1e1e">Gate bias -16V</text>
<path d="M97.50 47.15L99.35 50.48L95.65 50.48Z" fill="#0000ff"/>
<text class="lg2" x="107.8" y="51.60" font-size="7.2" fill="#1e1e1e">Gate bias -12V</text>
<path d="M97.50 59.55L99.35 56.22L95.65 56.22Z" fill="#ff00ff"/>
<text class="lg2" x="107.8" y="60.30" font-size="7.2" fill="#1e1e1e">Gate bias -8V</text>
<path d="M97.50 64.55L99.35 66.40L97.50 68.25L95.65 66.40Z" fill="#008000"/>
<text class="lg2" x="107.8" y="69.00" font-size="7.2" fill="#1e1e1e">Gate bias -4V</text>
<path d="M95.65 75.10L98.98 73.25L98.98 76.95Z" fill="#000080"/>
<text class="lg2" x="107.8" y="77.70" font-size="7.2" fill="#1e1e1e">Gate bias 0V</text>
<text x="38.50" y="239.2" font-size="9" text-anchor="middle" fill="#111">-1.0</text>
<text x="79.36" y="239.2" font-size="9" text-anchor="middle" fill="#111">-0.8</text>
<text x="120.21" y="239.2" font-size="9" text-anchor="middle" fill="#111">-0.6</text>
<text x="161.07" y="239.2" font-size="9" text-anchor="middle" fill="#111">-0.4</text>
<text x="201.93" y="239.2" font-size="9" text-anchor="middle" fill="#111">-0.2</text>
<text x="242.79" y="239.2" font-size="9" text-anchor="middle" fill="#111">0.0</text>
<text x="283.64" y="239.2" font-size="9" text-anchor="middle" fill="#111">0.2</text>
<text x="324.50" y="239.2" font-size="9" text-anchor="middle" fill="#111">0.4</text>
<text x="34.4" y="18.30" font-size="9" text-anchor="end" fill="#111">100</text>
<text x="34.4" y="88.07" font-size="9" text-anchor="end" fill="#111">10</text>
<text x="34.4" y="157.83" font-size="9" text-anchor="end" fill="#111">1</text>
<text x="34.4" y="227.60" font-size="9" text-anchor="end" fill="#111">0.1</text>
<text x="67.6" y="255.2" font-size="11.4" fill="#111">Bias Voltage between top and bottom electrode(V)</text>
<text transform="translate(11.3,128.8) rotate(-90)" font-size="12" text-anchor="middle" fill="#111">RA(&#937;&#8226;cm<tspan font-size="6.3" dy="-5.8">2</tspan><tspan dy="5.8">)</tspan></text>
<text x="6.3" y="10.8" class="ser" fill="#000">a</text>
<line x1="413.43" y1="14.4" x2="413.43" y2="224.0" stroke="#e6e6e6" stroke-width="0.8" stroke-dasharray="2 1.5"/>
<line x1="433.86" y1="14.4" x2="433.86" y2="224.0" stroke="#cbcbcb" stroke-width="1"/>
<line x1="454.29" y1="14.4" x2="454.29" y2="224.0" stroke="#e6e6e6" stroke-width="0.8" stroke-dasharray="2 1.5"/>
<line x1="474.71" y1="14.4" x2="474.71" y2="224.0" stroke="#cbcbcb" stroke-width="1"/>
<line x1="495.14" y1="14.4" x2="495.14" y2="224.0" stroke="#e6e6e6" stroke-width="0.8" stroke-dasharray="2 1.5"/>
<line x1="515.57" y1="14.4" x2="515.57" y2="224.0" stroke="#cbcbcb" stroke-width="1"/>
<line x1="536.00" y1="14.4" x2="536.00" y2="224.0" stroke="#e6e6e6" stroke-width="0.8" stroke-dasharray="2 1.5"/>
<line x1="556.43" y1="14.4" x2="556.43" y2="224.0" stroke="#cbcbcb" stroke-width="1"/>
<line x1="576.86" y1="14.4" x2="576.86" y2="224.0" stroke="#e6e6e6" stroke-width="0.8" stroke-dasharray="2 1.5"/>
<line x1="597.29" y1="14.4" x2="597.29" y2="224.0" stroke="#cbcbcb" stroke-width="1"/>
<line x1="617.71" y1="14.4" x2="617.71" y2="224.0" stroke="#e6e6e6" stroke-width="0.8" stroke-dasharray="2 1.5"/>
<line x1="638.14" y1="14.4" x2="638.14" y2="224.0" stroke="#cbcbcb" stroke-width="1"/>
<line x1="658.57" y1="14.4" x2="658.57" y2="224.0" stroke="#e6e6e6" stroke-width="0.8" stroke-dasharray="2 1.5"/>
<line x1="393.0" y1="66.80" x2="679.0" y2="66.80" stroke="#cbcbcb" stroke-width="1"/>
<line x1="393.0" y1="51.03" x2="679.0" y2="51.03" stroke="#e6e6e6" stroke-width="0.8" stroke-dasharray="2 1.5"/>
<line x1="393.0" y1="41.80" x2="679.0" y2="41.80" stroke="#e6e6e6" stroke-width="0.8" stroke-dasharray="2 1.5"/>
<line x1="393.0" y1="35.25" x2="679.0" y2="35.25" stroke="#e6e6e6" stroke-width="0.8" stroke-dasharray="2 1.5"/>
<line x1="393.0" y1="30.17" x2="679.0" y2="30.17" stroke="#e6e6e6" stroke-width="0.8" stroke-dasharray="2 1.5"/>
<line x1="393.0" y1="26.02" x2="679.0" y2="26.02" stroke="#e6e6e6" stroke-width="0.8" stroke-dasharray="2 1.5"/>
<line x1="393.0" y1="22.52" x2="679.0" y2="22.52" stroke="#e6e6e6" stroke-width="0.8" stroke-dasharray="2 1.5"/>
<line x1="393.0" y1="19.48" x2="679.0" y2="19.48" stroke="#e6e6e6" stroke-width="0.8" stroke-dasharray="2 1.5"/>
<line x1="393.0" y1="16.80" x2="679.0" y2="16.80" stroke="#e6e6e6" stroke-width="0.8" stroke-dasharray="2 1.5"/>
<line x1="393.0" y1="119.20" x2="679.0" y2="119.20" stroke="#cbcbcb" stroke-width="1"/>
<line x1="393.0" y1="103.43" x2="679.0" y2="103.43" stroke="#e6e6e6" stroke-width="0.8" stroke-dasharray="2 1.5"/>
<line x1="393.0" y1="94.20" x2="679.0" y2="94.20" stroke="#e6e6e6" stroke-width="0.8" stroke-dasharray="2 1.5"/>
<line x1="393.0" y1="87.65" x2="679.0" y2="87.65" stroke="#e6e6e6" stroke-width="0.8" stroke-dasharray="2 1.5"/>
<line x1="393.0" y1="82.57" x2="679.0" y2="82.57" stroke="#e6e6e6" stroke-width="0.8" stroke-dasharray="2 1.5"/>
<line x1="393.0" y1="78.42" x2="679.0" y2="78.42" stroke="#e6e6e6" stroke-width="0.8" stroke-dasharray="2 1.5"/>
<line x1="393.0" y1="74.92" x2="679.0" y2="74.92" stroke="#e6e6e6" stroke-width="0.8" stroke-dasharray="2 1.5"/>
<line x1="393.0" y1="71.88" x2="679.0" y2="71.88" stroke="#e6e6e6" stroke-width="0.8" stroke-dasharray="2 1.5"/>
<line x1="393.0" y1="69.20" x2="679.0" y2="69.20" stroke="#e6e6e6" stroke-width="0.8" stroke-dasharray="2 1.5"/>
<line x1="393.0" y1="171.60" x2="679.0" y2="171.60" stroke="#cbcbcb" stroke-width="1"/>
<line x1="393.0" y1="155.83" x2="679.0" y2="155.83" stroke="#e6e6e6" stroke-width="0.8" stroke-dasharray="2 1.5"/>
<line x1="393.0" y1="146.60" x2="679.0" y2="146.60" stroke="#e6e6e6" stroke-width="0.8" stroke-dasharray="2 1.5"/>
<line x1="393.0" y1="140.05" x2="679.0" y2="140.05" stroke="#e6e6e6" stroke-width="0.8" stroke-dasharray="2 1.5"/>
<line x1="393.0" y1="134.97" x2="679.0" y2="134.97" stroke="#e6e6e6" stroke-width="0.8" stroke-dasharray="2 1.5"/>
<line x1="393.0" y1="130.82" x2="679.0" y2="130.82" stroke="#e6e6e6" stroke-width="0.8" stroke-dasharray="2 1.5"/>
<line x1="393.0" y1="127.32" x2="679.0" y2="127.32" stroke="#e6e6e6" stroke-width="0.8" stroke-dasharray="2 1.5"/>
<line x1="393.0" y1="124.28" x2="679.0" y2="124.28" stroke="#e6e6e6" stroke-width="0.8" stroke-dasharray="2 1.5"/>
<line x1="393.0" y1="121.60" x2="679.0" y2="121.60" stroke="#e6e6e6" stroke-width="0.8" stroke-dasharray="2 1.5"/>
<line x1="393.0" y1="208.23" x2="679.0" y2="208.23" stroke="#e6e6e6" stroke-width="0.8" stroke-dasharray="2 1.5"/>
<line x1="393.0" y1="199.00" x2="679.0" y2="199.00" stroke="#e6e6e6" stroke-width="0.8" stroke-dasharray="2 1.5"/>
<line x1="393.0" y1="192.45" x2="679.0" y2="192.45" stroke="#e6e6e6" stroke-width="0.8" stroke-dasharray="2 1.5"/>
<line x1="393.0" y1="187.37" x2="679.0" y2="187.37" stroke="#e6e6e6" stroke-width="0.8" stroke-dasharray="2 1.5"/>
<line x1="393.0" y1="183.22" x2="679.0" y2="183.22" stroke="#e6e6e6" stroke-width="0.8" stroke-dasharray="2 1.5"/>
<line x1="393.0" y1="179.72" x2="679.0" y2="179.72" stroke="#e6e6e6" stroke-width="0.8" stroke-dasharray="2 1.5"/>
<line x1="393.0" y1="176.68" x2="679.0" y2="176.68" stroke="#e6e6e6" stroke-width="0.8" stroke-dasharray="2 1.5"/>
<line x1="393.0" y1="174.00" x2="679.0" y2="174.00" stroke="#e6e6e6" stroke-width="0.8" stroke-dasharray="2 1.5"/>
<defs><clipPath id="cb"><rect x="393" y="14.4" width="286" height="209.6"/></clipPath></defs>
<g clip-path="url(#cb)" fill="none" stroke-linecap="butt" stroke-linejoin="round">
<path d="M393.00 48.50 L410.00 50.50 L430.00 53.70 L450.00 57.50 L470.00 62.00 L490.00 66.80 L510.00 72.00 L533.00 80.50 L545.00 86.80 L560.00 95.50 L570.00 104.00 L576.20 110.40 L582.30 122.80 L587.00 133.60 L591.60 146.00 L594.70 156.70 L597.20 167.50 L598.30 172.00 L599.30 155.00 L600.20 132.00 L602.40 113.50 L604.90 104.00 L607.00 96.00 L609.00 83.00 L610.80 70.00 L613.20 60.00 L615.10 50.00 L617.00 40.00 L619.90 30.00 L622.50 22.00 L625.70 14.40 L628.00 8.00" stroke="#000" stroke-width="2.6" stroke-dasharray="6.6 4.6" stroke-dashoffset="3.5"/>
<path d="M393.00 62.00 L406.00 64.80 L420.50 67.40 L435.50 70.30 L450.00 73.20 L464.00 75.90 L478.50 79.90 L492.50 83.40 L507.00 87.50 L521.00 92.20 L533.50 98.70 L546.00 106.50 L556.00 114.00 L566.50 123.50 L573.00 129.50 L580.00 142.80 L586.80 156.70 L592.00 170.60 L595.50 184.40 L597.30 200.00 L597.30 202.00 L598.10 190.00 L599.20 175.00 L600.80 160.00 L602.00 150.00 L604.40 125.00 L607.20 100.00 L609.50 90.00 L611.60 80.00 L613.20 60.00 L615.10 50.00 L617.00 40.00 L619.90 30.00 L622.50 22.00 L625.70 14.40 L628.00 8.00" stroke="#0000ff" stroke-width="2.6" stroke-dasharray="3.8 10.7" stroke-dashoffset="3"/>
<path d="M393.00 57.40 L404.00 58.50 L420.00 61.20 L440.00 65.50 L470.00 72.50 L490.00 77.10 L510.00 83.00 L530.00 92.90 L545.00 99.10 L560.00 111.00 L570.00 121.00 L576.00 128.00 L581.00 136.00 L586.00 145.00 L590.50 156.00 L594.00 168.00 L596.50 182.00 L597.50 190.00 L598.70 178.00 L600.50 155.00 L603.30 125.00 L606.20 100.00 L610.60 80.00 L612.80 60.00 L614.80 50.00 L616.80 40.00 L619.80 30.00 L622.40 22.00 L625.60 14.40 L628.00 8.00" stroke="#ff0000" stroke-width="2.6" stroke-dasharray="12.3 11.7"/>
<path d="M393.00 58.30 L404.00 59.50 L415.00 61.60 L428.00 64.50 L445.00 67.50 L472.00 72.90 L490.00 77.60 L510.00 84.50 L530.00 94.50 L550.00 103.00 L565.00 118.00 L570.00 124.30 L577.00 134.00 L580.00 142.80 L586.80 156.70 L592.00 170.60 L595.50 184.40 L597.30 200.00 L597.30 202.00 L598.10 190.00 L599.20 175.00 L600.80 160.00 L602.00 150.00 L604.40 125.00 L607.20 100.00 L609.50 90.00 L611.60 80.00 L613.20 60.00 L615.10 50.00 L617.00 40.00 L619.90 30.00 L622.50 22.00 L625.70 14.40 L628.00 8.00" stroke="#ff00ff" stroke-width="2.6" stroke-dasharray="14 6 3.8 6"/>
<path d="M470.00 10.00 L481.00 15.00 L490.00 18.50 L500.00 22.20 L510.00 26.20 L517.00 30.30 L522.00 34.30 L527.00 37.00 L533.00 41.80 L538.00 48.50 L543.00 56.60 L547.70 65.40 L553.90 80.90 L560.00 96.30 L566.00 114.00 L573.00 129.50 L580.00 142.80 L586.80 156.70 L592.00 170.60 L595.50 184.40 L597.30 200.00 L597.30 202.00 L598.10 190.00 L599.20 175.00 L600.80 160.00 L602.00 150.00 L604.40 125.00 L607.20 100.00 L609.50 90.00 L611.60 80.00 L613.20 60.00 L615.10 50.00 L617.00 40.00 L619.90 30.00 L622.50 22.00 L625.70 14.40 L628.00 8.00" stroke="#008000" stroke-width="2.6" stroke-dasharray="10 5 3 5"/>
<path d="M505.00 10.00 L509.90 14.40 L520.00 21.50 L530.00 33.00 L535.00 40.40 L541.50 53.00 L547.70 65.40 L553.90 80.90 L560.00 96.30 L566.00 114.00 L573.00 129.50 L580.00 142.80 L586.80 156.70 L592.00 170.60 L595.50 184.40 L597.30 200.00 L597.30 202.00 L598.10 190.00 L599.20 175.00 L600.80 160.00 L602.00 150.00 L604.40 125.00 L607.20 100.00 L609.50 90.00 L611.60 80.00 L613.20 60.00 L615.10 50.00 L617.00 40.00 L619.90 30.00 L622.50 22.00 L625.70 14.40 L628.00 8.00" stroke="#000080" stroke-width="2.6"/>
</g>
<rect x="393.0" y="14.4" width="286.0" height="209.6" fill="none" stroke="#1a1a1a" stroke-width="1.3"/>
<line x1="393.00" y1="224.0" x2="393.00" y2="228.0" stroke="#1a1a1a" stroke-width="1.2"/>
<line x1="393.00" y1="14.4" x2="393.00" y2="18.9" stroke="#1a1a1a" stroke-width="1.2"/>
<line x1="413.43" y1="14.4" x2="413.43" y2="16.9" stroke="#1a1a1a" stroke-width="1.2"/>
<line x1="433.86" y1="224.0" x2="433.86" y2="228.0" stroke="#1a1a1a" stroke-width="1.2"/>
<line x1="433.86" y1="14.4" x2="433.86" y2="18.9" stroke="#1a1a1a" stroke-width="1.2"/>
<line x1="454.29" y1="14.4" x2="454.29" y2="16.9" stroke="#1a1a1a" stroke-width="1.2"/>
<line x1="474.71" y1="224.0" x2="474.71" y2="228.0" stroke="#1a1a1a" stroke-width="1.2"/>
<line x1="474.71" y1="14.4" x2="474.71" y2="18.9" stroke="#1a1a1a" stroke-width="1.2"/>
<line x1="495.14" y1="14.4" x2="495.14" y2="16.9" stroke="#1a1a1a" stroke-width="1.2"/>
<line x1="515.57" y1="224.0" x2="515.57" y2="228.0" stroke="#1a1a1a" stroke-width="1.2"/>
<line x1="515.57" y1="14.4" x2="515.57" y2="18.9" stroke="#1a1a1a" stroke-width="1.2"/>
<line x1="536.00" y1="14.4" x2="536.00" y2="16.9" stroke="#1a1a1a" stroke-width="1.2"/>
<line x1="556.43" y1="224.0" x2="556.43" y2="228.0" stroke="#1a1a1a" stroke-width="1.2"/>
<line x1="556.43" y1="14.4" x2="556.43" y2="18.9" stroke="#1a1a1a" stroke-width="1.2"/>
<line x1="576.86" y1="14.4" x2="576.86" y2="16.9" stroke="#1a1a1a" stroke-width="1.2"/>
<line x1="597.29" y1="224.0" x2="597.29" y2="228.0" stroke="#1a1a1a" stroke-width="1.2"/>
<line x1="597.29" y1="14.4" x2="597.29" y2="18.9" stroke="#1a1a1a" stroke-width="1.2"/>
<line x1="617.71" y1="14.4" x2="617.71" y2="16.9" stroke="#1a1a1a" stroke-width="1.2"/>
<line x1="638.14" y1="224.0" x2="638.14" y2="228.0" stroke="#1a1a1a" stroke-width="1.2"/>
<line x1="638.14" y1="14.4" x2="638.14" y2="18.9" stroke="#1a1a1a" stroke-width="1.2"/>
<line x1="658.57" y1="14.4" x2="658.57" y2="16.9" stroke="#1a1a1a" stroke-width="1.2"/>
<line x1="679.00" y1="224.0" x2="679.00" y2="228.0" stroke="#1a1a1a" stroke-width="1.2"/>
<line x1="679.00" y1="14.4" x2="679.00" y2="18.9" stroke="#1a1a1a" stroke-width="1.2"/>
<line x1="671.0" y1="66.80" x2="679.0" y2="66.80" stroke="#1a1a1a" stroke-width="1.2"/>
<line x1="388.0" y1="66.80" x2="393.0" y2="66.80" stroke="#1a1a1a" stroke-width="1.2"/>
<line x1="390.0" y1="51.03" x2="393.0" y2="51.03" stroke="#1a1a1a" stroke-width="1.2"/>
<line x1="674.5" y1="51.03" x2="679.0" y2="51.03" stroke="#1a1a1a" stroke-width="1.2"/>
<line x1="390.0" y1="41.80" x2="393.0" y2="41.80" stroke="#1a1a1a" stroke-width="1.2"/>
<line x1="674.5" y1="41.80" x2="679.0" y2="41.80" stroke="#1a1a1a" stroke-width="1.2"/>
<line x1="390.0" y1="35.25" x2="393.0" y2="35.25" stroke="#1a1a1a" stroke-width="1.2"/>
<line x1="674.5" y1="35.25" x2="679.0" y2="35.25" stroke="#1a1a1a" stroke-width="1.2"/>
<line x1="390.0" y1="30.17" x2="393.0" y2="30.17" stroke="#1a1a1a" stroke-width="1.2"/>
<line x1="674.5" y1="30.17" x2="679.0" y2="30.17" stroke="#1a1a1a" stroke-width="1.2"/>
<line x1="390.0" y1="26.02" x2="393.0" y2="26.02" stroke="#1a1a1a" stroke-width="1.2"/>
<line x1="674.5" y1="26.02" x2="679.0" y2="26.02" stroke="#1a1a1a" stroke-width="1.2"/>
<line x1="390.0" y1="22.52" x2="393.0" y2="22.52" stroke="#1a1a1a" stroke-width="1.2"/>
<line x1="674.5" y1="22.52" x2="679.0" y2="22.52" stroke="#1a1a1a" stroke-width="1.2"/>
<line x1="390.0" y1="19.48" x2="393.0" y2="19.48" stroke="#1a1a1a" stroke-width="1.2"/>
<line x1="674.5" y1="19.48" x2="679.0" y2="19.48" stroke="#1a1a1a" stroke-width="1.2"/>
<line x1="390.0" y1="16.80" x2="393.0" y2="16.80" stroke="#1a1a1a" stroke-width="1.2"/>
<line x1="674.5" y1="16.80" x2="679.0" y2="16.80" stroke="#1a1a1a" stroke-width="1.2"/>
<line x1="671.0" y1="119.20" x2="679.0" y2="119.20" stroke="#1a1a1a" stroke-width="1.2"/>
<line x1="388.0" y1="119.20" x2="393.0" y2="119.20" stroke="#1a1a1a" stroke-width="1.2"/>
<line x1="390.0" y1="103.43" x2="393.0" y2="103.43" stroke="#1a1a1a" stroke-width="1.2"/>
<line x1="674.5" y1="103.43" x2="679.0" y2="103.43" stroke="#1a1a1a" stroke-width="1.2"/>
<line x1="390.0" y1="94.20" x2="393.0" y2="94.20" stroke="#1a1a1a" stroke-width="1.2"/>
<line x1="674.5" y1="94.20" x2="679.0" y2="94.20" stroke="#1a1a1a" stroke-width="1.2"/>
<line x1="390.0" y1="87.65" x2="393.0" y2="87.65" stroke="#1a1a1a" stroke-width="1.2"/>
<line x1="674.5" y1="87.65" x2="679.0" y2="87.65" stroke="#1a1a1a" stroke-width="1.2"/>
<line x1="390.0" y1="82.57" x2="393.0" y2="82.57" stroke="#1a1a1a" stroke-width="1.2"/>
<line x1="674.5" y1="82.57" x2="679.0" y2="82.57" stroke="#1a1a1a" stroke-width="1.2"/>
<line x1="390.0" y1="78.42" x2="393.0" y2="78.42" stroke="#1a1a1a" stroke-width="1.2"/>
<line x1="674.5" y1="78.42" x2="679.0" y2="78.42" stroke="#1a1a1a" stroke-width="1.2"/>
<line x1="390.0" y1="74.92" x2="393.0" y2="74.92" stroke="#1a1a1a" stroke-width="1.2"/>
<line x1="674.5" y1="74.92" x2="679.0" y2="74.92" stroke="#1a1a1a" stroke-width="1.2"/>
<line x1="390.0" y1="71.88" x2="393.0" y2="71.88" stroke="#1a1a1a" stroke-width="1.2"/>
<line x1="674.5" y1="71.88" x2="679.0" y2="71.88" stroke="#1a1a1a" stroke-width="1.2"/>
<line x1="390.0" y1="69.20" x2="393.0" y2="69.20" stroke="#1a1a1a" stroke-width="1.2"/>
<line x1="674.5" y1="69.20" x2="679.0" y2="69.20" stroke="#1a1a1a" stroke-width="1.2"/>
<line x1="671.0" y1="171.60" x2="679.0" y2="171.60" stroke="#1a1a1a" stroke-width="1.2"/>
<line x1="388.0" y1="171.60" x2="393.0" y2="171.60" stroke="#1a1a1a" stroke-width="1.2"/>
<line x1="390.0" y1="155.83" x2="393.0" y2="155.83" stroke="#1a1a1a" stroke-width="1.2"/>
<line x1="674.5" y1="155.83" x2="679.0" y2="155.83" stroke="#1a1a1a" stroke-width="1.2"/>
<line x1="390.0" y1="146.60" x2="393.0" y2="146.60" stroke="#1a1a1a" stroke-width="1.2"/>
<line x1="674.5" y1="146.60" x2="679.0" y2="146.60" stroke="#1a1a1a" stroke-width="1.2"/>
<line x1="390.0" y1="140.05" x2="393.0" y2="140.05" stroke="#1a1a1a" stroke-width="1.2"/>
<line x1="674.5" y1="140.05" x2="679.0" y2="140.05" stroke="#1a1a1a" stroke-width="1.2"/>
<line x1="390.0" y1="134.97" x2="393.0" y2="134.97" stroke="#1a1a1a" stroke-width="1.2"/>
<line x1="674.5" y1="134.97" x2="679.0" y2="134.97" stroke="#1a1a1a" stroke-width="1.2"/>
<line x1="390.0" y1="130.82" x2="393.0" y2="130.82" stroke="#1a1a1a" stroke-width="1.2"/>
<line x1="674.5" y1="130.82" x2="679.0" y2="130.82" stroke="#1a1a1a" stroke-width="1.2"/>
<line x1="390.0" y1="127.32" x2="393.0" y2="127.32" stroke="#1a1a1a" stroke-width="1.2"/>
<line x1="674.5" y1="127.32" x2="679.0" y2="127.32" stroke="#1a1a1a" stroke-width="1.2"/>
<line x1="390.0" y1="124.28" x2="393.0" y2="124.28" stroke="#1a1a1a" stroke-width="1.2"/>
<line x1="674.5" y1="124.28" x2="679.0" y2="124.28" stroke="#1a1a1a" stroke-width="1.2"/>
<line x1="390.0" y1="121.60" x2="393.0" y2="121.60" stroke="#1a1a1a" stroke-width="1.2"/>
<line x1="674.5" y1="121.60" x2="679.0" y2="121.60" stroke="#1a1a1a" stroke-width="1.2"/>
<line x1="671.0" y1="224.00" x2="679.0" y2="224.00" stroke="#1a1a1a" stroke-width="1.2"/>
<line x1="388.0" y1="224.00" x2="393.0" y2="224.00" stroke="#1a1a1a" stroke-width="1.2"/>
<line x1="390.0" y1="208.23" x2="393.0" y2="208.23" stroke="#1a1a1a" stroke-width="1.2"/>
<line x1="674.5" y1="208.23" x2="679.0" y2="208.23" stroke="#1a1a1a" stroke-width="1.2"/>
<line x1="390.0" y1="199.00" x2="393.0" y2="199.00" stroke="#1a1a1a" stroke-width="1.2"/>
<line x1="674.5" y1="199.00" x2="679.0" y2="199.00" stroke="#1a1a1a" stroke-width="1.2"/>
<line x1="390.0" y1="192.45" x2="393.0" y2="192.45" stroke="#1a1a1a" stroke-width="1.2"/>
<line x1="674.5" y1="192.45" x2="679.0" y2="192.45" stroke="#1a1a1a" stroke-width="1.2"/>
<line x1="390.0" y1="187.37" x2="393.0" y2="187.37" stroke="#1a1a1a" stroke-width="1.2"/>
<line x1="674.5" y1="187.37" x2="679.0" y2="187.37" stroke="#1a1a1a" stroke-width="1.2"/>
<line x1="390.0" y1="183.22" x2="393.0" y2="183.22" stroke="#1a1a1a" stroke-width="1.2"/>
<line x1="674.5" y1="183.22" x2="679.0" y2="183.22" stroke="#1a1a1a" stroke-width="1.2"/>
<line x1="390.0" y1="179.72" x2="393.0" y2="179.72" stroke="#1a1a1a" stroke-width="1.2"/>
<line x1="674.5" y1="179.72" x2="679.0" y2="179.72" stroke="#1a1a1a" stroke-width="1.2"/>
<line x1="390.0" y1="176.68" x2="393.0" y2="176.68" stroke="#1a1a1a" stroke-width="1.2"/>
<line x1="674.5" y1="176.68" x2="679.0" y2="176.68" stroke="#1a1a1a" stroke-width="1.2"/>
<line x1="390.0" y1="174.00" x2="393.0" y2="174.00" stroke="#1a1a1a" stroke-width="1.2"/>
<line x1="674.5" y1="174.00" x2="679.0" y2="174.00" stroke="#1a1a1a" stroke-width="1.2"/>
<line x1="671.0" y1="14.40" x2="679.0" y2="14.40" stroke="#1a1a1a" stroke-width="1.2"/>
<line x1="388.0" y1="14.40" x2="393.0" y2="14.40" stroke="#1a1a1a" stroke-width="1.2"/>
<line x1="388.0" y1="224.00" x2="393.0" y2="224.00" stroke="#1a1a1a" stroke-width="1.2"/>
<rect x="441.2" y="105.8" width="62.4" height="97.4" fill="#fff" stroke="#444" stroke-width="1"/>
<text class="lg" x="446.4" y="117.8" font-size="10.8" fill="#1a1a1a">Gate bias</text>
<line x1="444.6" y1="127.80" x2="472.4" y2="127.80" stroke="#000" stroke-width="2.8" stroke-dasharray="6 5"/>
<text class="lg" x="477.5" y="131.80" font-size="10.8" fill="#1a1a1a">-20V</text>
<line x1="444.6" y1="141.65" x2="472.4" y2="141.65" stroke="#ff0000" stroke-width="2.8" stroke-dasharray="13 11.5 3 20"/>
<text class="lg" x="477.5" y="145.65" font-size="10.8" fill="#1a1a1a">-16v</text>
<line x1="444.6" y1="155.50" x2="472.4" y2="155.50" stroke="#0000ff" stroke-width="2.8" stroke-dasharray="4 10.5"/>
<text class="lg" x="477.5" y="159.50" font-size="10.8" fill="#1a1a1a">-12V</text>
<line x1="444.6" y1="169.35" x2="472.4" y2="169.35" stroke="#ff00ff" stroke-width="2.8" stroke-dasharray="15 6.5 4 20"/>
<text class="lg" x="477.5" y="173.35" font-size="10.8" fill="#1a1a1a">-8V</text>
<line x1="444.6" y1="183.20" x2="472.4" y2="183.20" stroke="#008000" stroke-width="2.8" stroke-dasharray="11.6 6.2 4 20"/>
<text class="lg" x="477.5" y="187.20" font-size="10.8" fill="#1a1a1a">-4V</text>
<line x1="444.6" y1="197.05" x2="472.4" y2="197.05" stroke="#000080" stroke-width="2.8"/>
<text class="lg" x="477.5" y="201.05" font-size="10.8" fill="#1a1a1a">0V</text>
<text x="393.00" y="238.6" font-size="9" text-anchor="middle" fill="#111">-1.0</text>
<text x="433.86" y="238.6" font-size="9" text-anchor="middle" fill="#111">-0.8</text>
<text x="474.71" y="238.6" font-size="9" text-anchor="middle" fill="#111">-0.6</text>
<text x="515.57" y="238.6" font-size="9" text-anchor="middle" fill="#111">-0.4</text>
<text x="556.43" y="238.6" font-size="9" text-anchor="middle" fill="#111">-0.2</text>
<text x="597.29" y="238.6" font-size="9" text-anchor="middle" fill="#111">0.0</text>
<text x="638.14" y="238.6" font-size="9" text-anchor="middle" fill="#111">0.2</text>
<text x="679.00" y="238.6" font-size="9" text-anchor="middle" fill="#111">0.4</text>
<text x="385.9" y="16.90" font-size="9" text-anchor="end" fill="#111">1</text>
<text x="385.9" y="69.30" font-size="9" text-anchor="end" fill="#111">0.1</text>
<text x="385.9" y="121.70" font-size="9" text-anchor="end" fill="#111">0.01</text>
<text x="385.9" y="174.10" font-size="9" text-anchor="end" fill="#111">1E-3</text>
<text x="385.9" y="226.50" font-size="9" text-anchor="end" fill="#111">1E-4</text>
<text x="409.6" y="255.2" font-size="11.4" fill="#111">Bias Voltage between top and bottom electrode(V)</text>
<text transform="translate(356.3,119.2) rotate(-90)" font-size="12" text-anchor="middle" fill="#111">J(A/cm<tspan font-size="6.3" dy="-5.8">2</tspan><tspan dy="5.8">)</tspan></text>
<text x="361.5" y="10.8" class="ser" fill="#000">b</text>
</svg>
</body></html>
